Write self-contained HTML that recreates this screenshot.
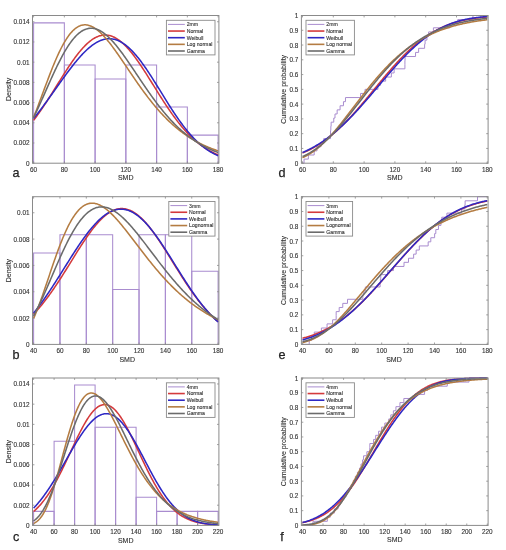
<!DOCTYPE html><html><head><meta charset="utf-8"><style>html,body{margin:0;padding:0;background:#fff;}svg{display:block;will-change:transform;}</style></head><body>
<svg width="506" height="550" viewBox="0 0 506 550" font-family='&quot;Liberation Sans&quot;, sans-serif' fill="#333333">
<style>text{stroke:#333333;stroke-width:0.12;}</style>
<rect width="506" height="550" fill="#fff"/>
<g>
<path d="M33.60,163.20 V22.89 H64.35 V163.20" stroke="#a98ccf" stroke-width="1.05" fill="none"/>
<path d="M64.35,163.20 V64.98 H95.10 V163.20" stroke="#a98ccf" stroke-width="1.05" fill="none"/>
<path d="M95.10,163.20 V79.01 H125.85 V163.20" stroke="#a98ccf" stroke-width="1.05" fill="none"/>
<path d="M125.85,163.20 V64.98 H156.60 V163.20" stroke="#a98ccf" stroke-width="1.05" fill="none"/>
<path d="M156.60,163.20 V107.07 H187.35 V163.20" stroke="#a98ccf" stroke-width="1.05" fill="none"/>
<path d="M187.35,163.20 V135.14 H218.10 V163.20" stroke="#a98ccf" stroke-width="1.05" fill="none"/>
<path d="M33.60,120.36 L34.37,119.35 L35.14,118.32 L35.91,117.28 L36.68,116.23 L37.44,115.16 L38.21,114.09 L38.98,113.00 L39.75,111.90 L40.52,110.79 L41.29,109.68 L42.06,108.55 L42.83,107.41 L43.59,106.26 L44.36,105.10 L45.13,103.93 L45.90,102.76 L46.67,101.58 L47.44,100.39 L48.21,99.19 L48.98,97.99 L49.74,96.78 L50.51,95.57 L51.28,94.35 L52.05,93.13 L52.82,91.90 L53.59,90.67 L54.36,89.44 L55.12,88.21 L55.89,86.97 L56.66,85.74 L57.43,84.50 L58.20,83.27 L58.97,82.03 L59.74,80.80 L60.51,79.57 L61.28,78.34 L62.04,77.12 L62.81,75.90 L63.58,74.69 L64.35,73.48 L65.12,72.28 L65.89,71.08 L66.66,69.90 L67.42,68.72 L68.19,67.55 L68.96,66.39 L69.73,65.25 L70.50,64.11 L71.27,62.99 L72.04,61.88 L72.81,60.78 L73.58,59.69 L74.34,58.63 L75.11,57.57 L75.88,56.54 L76.65,55.52 L77.42,54.52 L78.19,53.54 L78.96,52.57 L79.72,51.63 L80.49,50.70 L81.26,49.80 L82.03,48.92 L82.80,48.06 L83.57,47.23 L84.34,46.41 L85.11,45.62 L85.88,44.86 L86.64,44.12 L87.41,43.41 L88.18,42.72 L88.95,42.06 L89.72,41.43 L90.49,40.82 L91.26,40.25 L92.03,39.70 L92.79,39.18 L93.56,38.69 L94.33,38.23 L95.10,37.80 L95.87,37.40 L96.64,37.03 L97.41,36.69 L98.18,36.38 L98.94,36.10 L99.71,35.86 L100.48,35.64 L101.25,35.46 L102.02,35.31 L102.79,35.20 L103.56,35.11 L104.33,35.06 L105.09,35.04 L105.86,35.05 L106.63,35.10 L107.40,35.18 L108.17,35.28 L108.94,35.43 L109.71,35.60 L110.47,35.81 L111.24,36.04 L112.01,36.31 L112.78,36.61 L113.55,36.95 L114.32,37.31 L115.09,37.70 L115.86,38.13 L116.62,38.58 L117.39,39.06 L118.16,39.58 L118.93,40.12 L119.70,40.69 L120.47,41.29 L121.24,41.91 L122.01,42.57 L122.78,43.25 L123.54,43.96 L124.31,44.69 L125.08,45.45 L125.85,46.23 L126.62,47.04 L127.39,47.87 L128.16,48.72 L128.93,49.60 L129.69,50.49 L130.46,51.41 L131.23,52.35 L132.00,53.31 L132.77,54.29 L133.54,55.29 L134.31,56.30 L135.08,57.34 L135.84,58.38 L136.61,59.45 L137.38,60.53 L138.15,61.62 L138.92,62.73 L139.69,63.85 L140.46,64.99 L141.22,66.13 L141.99,67.29 L142.76,68.45 L143.53,69.63 L144.30,70.81 L145.07,72.00 L145.84,73.20 L146.61,74.41 L147.38,75.62 L148.14,76.84 L148.91,78.06 L149.68,79.29 L150.45,80.52 L151.22,81.75 L151.99,82.98 L152.76,84.22 L153.53,85.45 L154.29,86.69 L155.06,87.93 L155.83,89.16 L156.60,90.39 L157.37,91.62 L158.14,92.85 L158.91,94.07 L159.68,95.29 L160.44,96.50 L161.21,97.71 L161.98,98.92 L162.75,100.12 L163.52,101.31 L164.29,102.49 L165.06,103.67 L165.82,104.83 L166.59,105.99 L167.36,107.14 L168.13,108.29 L168.90,109.42 L169.67,110.54 L170.44,111.65 L171.21,112.75 L171.97,113.84 L172.74,114.92 L173.51,115.99 L174.28,117.04 L175.05,118.08 L175.82,119.11 L176.59,120.13 L177.36,121.14 L178.12,122.13 L178.89,123.11 L179.66,124.07 L180.43,125.02 L181.20,125.96 L181.97,126.89 L182.74,127.80 L183.51,128.69 L184.28,129.57 L185.04,130.44 L185.81,131.29 L186.58,132.13 L187.35,132.96 L188.12,133.77 L188.89,134.56 L189.66,135.34 L190.42,136.11 L191.19,136.86 L191.96,137.60 L192.73,138.32 L193.50,139.03 L194.27,139.73 L195.04,140.41 L195.81,141.07 L196.57,141.73 L197.34,142.36 L198.11,142.99 L198.88,143.60 L199.65,144.20 L200.42,144.78 L201.19,145.35 L201.96,145.91 L202.72,146.45 L203.49,146.98 L204.26,147.50 L205.03,148.00 L205.80,148.50 L206.57,148.98 L207.34,149.45 L208.11,149.90 L208.88,150.35 L209.64,150.78 L210.41,151.20 L211.18,151.61 L211.95,152.01 L212.72,152.40 L213.49,152.77 L214.26,153.14 L215.02,153.49 L215.79,153.84 L216.56,154.17 L217.33,154.50 L218.10,154.82" stroke="#d43a3c" stroke-width="1.55" fill="none" stroke-linejoin="round"/>
<path d="M33.60,118.50 L34.37,117.55 L35.14,116.60 L35.91,115.64 L36.68,114.67 L37.44,113.69 L38.21,112.70 L38.98,111.71 L39.75,110.71 L40.52,109.70 L41.29,108.68 L42.06,107.66 L42.83,106.64 L43.59,105.61 L44.36,104.57 L45.13,103.52 L45.90,102.48 L46.67,101.42 L47.44,100.37 L48.21,99.30 L48.98,98.24 L49.74,97.17 L50.51,96.10 L51.28,95.02 L52.05,93.95 L52.82,92.87 L53.59,91.79 L54.36,90.71 L55.12,89.63 L55.89,88.54 L56.66,87.46 L57.43,86.38 L58.20,85.30 L58.97,84.22 L59.74,83.14 L60.51,82.06 L61.28,80.99 L62.04,79.91 L62.81,78.85 L63.58,77.78 L64.35,76.72 L65.12,75.67 L65.89,74.62 L66.66,73.57 L67.42,72.53 L68.19,71.50 L68.96,70.48 L69.73,69.46 L70.50,68.45 L71.27,67.45 L72.04,66.46 L72.81,65.48 L73.58,64.51 L74.34,63.54 L75.11,62.59 L75.88,61.66 L76.65,60.73 L77.42,59.81 L78.19,58.91 L78.96,58.03 L79.72,57.15 L80.49,56.29 L81.26,55.45 L82.03,54.62 L82.80,53.81 L83.57,53.01 L84.34,52.23 L85.11,51.47 L85.88,50.73 L86.64,50.00 L87.41,49.29 L88.18,48.61 L88.95,47.94 L89.72,47.29 L90.49,46.66 L91.26,46.06 L92.03,45.47 L92.79,44.91 L93.56,44.37 L94.33,43.85 L95.10,43.36 L95.87,42.89 L96.64,42.44 L97.41,42.02 L98.18,41.62 L98.94,41.24 L99.71,40.89 L100.48,40.57 L101.25,40.27 L102.02,40.00 L102.79,39.76 L103.56,39.54 L104.33,39.34 L105.09,39.18 L105.86,39.04 L106.63,38.93 L107.40,38.85 L108.17,38.79 L108.94,38.76 L109.71,38.76 L110.47,38.79 L111.24,38.85 L112.01,38.93 L112.78,39.04 L113.55,39.18 L114.32,39.35 L115.09,39.55 L115.86,39.78 L116.62,40.03 L117.39,40.31 L118.16,40.62 L118.93,40.96 L119.70,41.33 L120.47,41.72 L121.24,42.14 L122.01,42.59 L122.78,43.07 L123.54,43.57 L124.31,44.10 L125.08,44.66 L125.85,45.24 L126.62,45.85 L127.39,46.48 L128.16,47.14 L128.93,47.82 L129.69,48.53 L130.46,49.27 L131.23,50.02 L132.00,50.80 L132.77,51.61 L133.54,52.43 L134.31,53.28 L135.08,54.15 L135.84,55.04 L136.61,55.96 L137.38,56.89 L138.15,57.84 L138.92,58.81 L139.69,59.80 L140.46,60.81 L141.22,61.83 L141.99,62.87 L142.76,63.93 L143.53,65.00 L144.30,66.09 L145.07,67.19 L145.84,68.31 L146.61,69.43 L147.38,70.58 L148.14,71.73 L148.91,72.89 L149.68,74.07 L150.45,75.25 L151.22,76.44 L151.99,77.64 L152.76,78.85 L153.53,80.07 L154.29,81.29 L155.06,82.52 L155.83,83.75 L156.60,84.99 L157.37,86.23 L158.14,87.47 L158.91,88.71 L159.68,89.96 L160.44,91.21 L161.21,92.46 L161.98,93.70 L162.75,94.95 L163.52,96.20 L164.29,97.44 L165.06,98.68 L165.82,99.91 L166.59,101.14 L167.36,102.37 L168.13,103.59 L168.90,104.81 L169.67,106.02 L170.44,107.22 L171.21,108.41 L171.97,109.60 L172.74,110.78 L173.51,111.95 L174.28,113.10 L175.05,114.25 L175.82,115.39 L176.59,116.52 L177.36,117.64 L178.12,118.74 L178.89,119.83 L179.66,120.91 L180.43,121.98 L181.20,123.04 L181.97,124.08 L182.74,125.10 L183.51,126.12 L184.28,127.12 L185.04,128.10 L185.81,129.07 L186.58,130.02 L187.35,130.96 L188.12,131.89 L188.89,132.80 L189.66,133.69 L190.42,134.56 L191.19,135.43 L191.96,136.27 L192.73,137.10 L193.50,137.91 L194.27,138.71 L195.04,139.49 L195.81,140.25 L196.57,141.00 L197.34,141.73 L198.11,142.45 L198.88,143.15 L199.65,143.83 L200.42,144.50 L201.19,145.15 L201.96,145.79 L202.72,146.41 L203.49,147.01 L204.26,147.60 L205.03,148.17 L205.80,148.73 L206.57,149.27 L207.34,149.80 L208.11,150.31 L208.88,150.81 L209.64,151.30 L210.41,151.77 L211.18,152.22 L211.95,152.66 L212.72,153.09 L213.49,153.51 L214.26,153.91 L215.02,154.30 L215.79,154.67 L216.56,155.04 L217.33,155.39 L218.10,155.73" stroke="#2e28c4" stroke-width="1.55" fill="none" stroke-linejoin="round"/>
<path d="M33.60,117.27 L34.37,115.35 L35.14,113.40 L35.91,111.43 L36.68,109.44 L37.44,107.44 L38.21,105.41 L38.98,103.37 L39.75,101.32 L40.52,99.26 L41.29,97.19 L42.06,95.12 L42.83,93.04 L43.59,90.96 L44.36,88.89 L45.13,86.81 L45.90,84.75 L46.67,82.69 L47.44,80.65 L48.21,78.62 L48.98,76.60 L49.74,74.60 L50.51,72.62 L51.28,70.66 L52.05,68.73 L52.82,66.82 L53.59,64.94 L54.36,63.08 L55.12,61.26 L55.89,59.47 L56.66,57.72 L57.43,56.00 L58.20,54.32 L58.97,52.67 L59.74,51.07 L60.51,49.51 L61.28,47.99 L62.04,46.51 L62.81,45.08 L63.58,43.69 L64.35,42.35 L65.12,41.05 L65.89,39.80 L66.66,38.61 L67.42,37.46 L68.19,36.36 L68.96,35.31 L69.73,34.31 L70.50,33.36 L71.27,32.46 L72.04,31.61 L72.81,30.81 L73.58,30.06 L74.34,29.37 L75.11,28.72 L75.88,28.13 L76.65,27.58 L77.42,27.09 L78.19,26.65 L78.96,26.25 L79.72,25.91 L80.49,25.61 L81.26,25.36 L82.03,25.16 L82.80,25.01 L83.57,24.90 L84.34,24.84 L85.11,24.83 L85.88,24.85 L86.64,24.93 L87.41,25.04 L88.18,25.20 L88.95,25.40 L89.72,25.64 L90.49,25.92 L91.26,26.23 L92.03,26.59 L92.79,26.98 L93.56,27.41 L94.33,27.88 L95.10,28.37 L95.87,28.91 L96.64,29.47 L97.41,30.07 L98.18,30.69 L98.94,31.35 L99.71,32.03 L100.48,32.74 L101.25,33.48 L102.02,34.25 L102.79,35.04 L103.56,35.85 L104.33,36.69 L105.09,37.54 L105.86,38.42 L106.63,39.32 L107.40,40.24 L108.17,41.18 L108.94,42.13 L109.71,43.10 L110.47,44.09 L111.24,45.09 L112.01,46.11 L112.78,47.14 L113.55,48.18 L114.32,49.23 L115.09,50.29 L115.86,51.37 L116.62,52.45 L117.39,53.54 L118.16,54.64 L118.93,55.75 L119.70,56.86 L120.47,57.98 L121.24,59.10 L122.01,60.23 L122.78,61.36 L123.54,62.49 L124.31,63.63 L125.08,64.77 L125.85,65.91 L126.62,67.05 L127.39,68.19 L128.16,69.34 L128.93,70.48 L129.69,71.62 L130.46,72.75 L131.23,73.89 L132.00,75.02 L132.77,76.15 L133.54,77.28 L134.31,78.40 L135.08,79.52 L135.84,80.64 L136.61,81.75 L137.38,82.85 L138.15,83.95 L138.92,85.04 L139.69,86.13 L140.46,87.21 L141.22,88.29 L141.99,89.35 L142.76,90.41 L143.53,91.46 L144.30,92.51 L145.07,93.55 L145.84,94.57 L146.61,95.59 L147.38,96.61 L148.14,97.61 L148.91,98.61 L149.68,99.59 L150.45,100.57 L151.22,101.54 L151.99,102.49 L152.76,103.44 L153.53,104.38 L154.29,105.31 L155.06,106.23 L155.83,107.14 L156.60,108.04 L157.37,108.94 L158.14,109.82 L158.91,110.69 L159.68,111.55 L160.44,112.40 L161.21,113.24 L161.98,114.07 L162.75,114.89 L163.52,115.70 L164.29,116.51 L165.06,117.30 L165.82,118.08 L166.59,118.85 L167.36,119.61 L168.13,120.36 L168.90,121.10 L169.67,121.83 L170.44,122.55 L171.21,123.26 L171.97,123.96 L172.74,124.66 L173.51,125.34 L174.28,126.01 L175.05,126.67 L175.82,127.33 L176.59,127.97 L177.36,128.60 L178.12,129.23 L178.89,129.84 L179.66,130.45 L180.43,131.05 L181.20,131.63 L181.97,132.21 L182.74,132.78 L183.51,133.34 L184.28,133.90 L185.04,134.44 L185.81,134.97 L186.58,135.50 L187.35,136.02 L188.12,136.53 L188.89,137.03 L189.66,137.52 L190.42,138.01 L191.19,138.49 L191.96,138.96 L192.73,139.42 L193.50,139.87 L194.27,140.32 L195.04,140.76 L195.81,141.19 L196.57,141.61 L197.34,142.03 L198.11,142.44 L198.88,142.84 L199.65,143.24 L200.42,143.62 L201.19,144.01 L201.96,144.38 L202.72,144.75 L203.49,145.11 L204.26,145.47 L205.03,145.82 L205.80,146.16 L206.57,146.50 L207.34,146.83 L208.11,147.15 L208.88,147.47 L209.64,147.78 L210.41,148.09 L211.18,148.39 L211.95,148.69 L212.72,148.98 L213.49,149.27 L214.26,149.55 L215.02,149.82 L215.79,150.09 L216.56,150.36 L217.33,150.62 L218.10,150.87" stroke="#b47c42" stroke-width="1.55" fill="none" stroke-linejoin="round"/>
<path d="M33.60,117.59 L34.37,116.00 L35.14,114.40 L35.91,112.77 L36.68,111.13 L37.44,109.48 L38.21,107.81 L38.98,106.13 L39.75,104.43 L40.52,102.73 L41.29,101.01 L42.06,99.29 L42.83,97.56 L43.59,95.83 L44.36,94.09 L45.13,92.35 L45.90,90.61 L46.67,88.88 L47.44,87.14 L48.21,85.41 L48.98,83.68 L49.74,81.96 L50.51,80.24 L51.28,78.54 L52.05,76.84 L52.82,75.16 L53.59,73.49 L54.36,71.84 L55.12,70.20 L55.89,68.58 L56.66,66.98 L57.43,65.39 L58.20,63.83 L58.97,62.29 L59.74,60.78 L60.51,59.29 L61.28,57.82 L62.04,56.38 L62.81,54.97 L63.58,53.59 L64.35,52.24 L65.12,50.91 L65.89,49.62 L66.66,48.37 L67.42,47.14 L68.19,45.95 L68.96,44.80 L69.73,43.68 L70.50,42.59 L71.27,41.54 L72.04,40.53 L72.81,39.56 L73.58,38.63 L74.34,37.73 L75.11,36.88 L75.88,36.06 L76.65,35.28 L77.42,34.55 L78.19,33.85 L78.96,33.20 L79.72,32.58 L80.49,32.01 L81.26,31.47 L82.03,30.98 L82.80,30.53 L83.57,30.12 L84.34,29.75 L85.11,29.42 L85.88,29.13 L86.64,28.89 L87.41,28.68 L88.18,28.51 L88.95,28.38 L89.72,28.30 L90.49,28.25 L91.26,28.24 L92.03,28.26 L92.79,28.33 L93.56,28.43 L94.33,28.57 L95.10,28.75 L95.87,28.96 L96.64,29.21 L97.41,29.50 L98.18,29.81 L98.94,30.16 L99.71,30.55 L100.48,30.97 L101.25,31.41 L102.02,31.90 L102.79,32.41 L103.56,32.95 L104.33,33.52 L105.09,34.12 L105.86,34.74 L106.63,35.40 L107.40,36.07 L108.17,36.78 L108.94,37.51 L109.71,38.27 L110.47,39.04 L111.24,39.84 L112.01,40.67 L112.78,41.51 L113.55,42.37 L114.32,43.26 L115.09,44.16 L115.86,45.08 L116.62,46.02 L117.39,46.98 L118.16,47.95 L118.93,48.93 L119.70,49.93 L120.47,50.95 L121.24,51.98 L122.01,53.02 L122.78,54.07 L123.54,55.13 L124.31,56.20 L125.08,57.29 L125.85,58.38 L126.62,59.48 L127.39,60.58 L128.16,61.70 L128.93,62.82 L129.69,63.94 L130.46,65.07 L131.23,66.21 L132.00,67.35 L132.77,68.49 L133.54,69.64 L134.31,70.78 L135.08,71.93 L135.84,73.08 L136.61,74.23 L137.38,75.38 L138.15,76.53 L138.92,77.68 L139.69,78.83 L140.46,79.97 L141.22,81.12 L141.99,82.26 L142.76,83.39 L143.53,84.53 L144.30,85.66 L145.07,86.78 L145.84,87.90 L146.61,89.02 L147.38,90.13 L148.14,91.23 L148.91,92.33 L149.68,93.42 L150.45,94.51 L151.22,95.59 L151.99,96.66 L152.76,97.72 L153.53,98.78 L154.29,99.82 L155.06,100.86 L155.83,101.89 L156.60,102.91 L157.37,103.93 L158.14,104.93 L158.91,105.93 L159.68,106.91 L160.44,107.89 L161.21,108.85 L161.98,109.81 L162.75,110.76 L163.52,111.69 L164.29,112.62 L165.06,113.53 L165.82,114.44 L166.59,115.34 L167.36,116.22 L168.13,117.09 L168.90,117.96 L169.67,118.81 L170.44,119.65 L171.21,120.48 L171.97,121.30 L172.74,122.11 L173.51,122.91 L174.28,123.70 L175.05,124.48 L175.82,125.24 L176.59,126.00 L177.36,126.74 L178.12,127.48 L178.89,128.20 L179.66,128.91 L180.43,129.61 L181.20,130.30 L181.97,130.98 L182.74,131.65 L183.51,132.31 L184.28,132.96 L185.04,133.60 L185.81,134.23 L186.58,134.84 L187.35,135.45 L188.12,136.05 L188.89,136.63 L189.66,137.21 L190.42,137.78 L191.19,138.34 L191.96,138.88 L192.73,139.42 L193.50,139.95 L194.27,140.47 L195.04,140.98 L195.81,141.48 L196.57,141.97 L197.34,142.45 L198.11,142.93 L198.88,143.39 L199.65,143.85 L200.42,144.29 L201.19,144.73 L201.96,145.16 L202.72,145.58 L203.49,145.99 L204.26,146.40 L205.03,146.80 L205.80,147.19 L206.57,147.57 L207.34,147.94 L208.11,148.31 L208.88,148.67 L209.64,149.02 L210.41,149.36 L211.18,149.70 L211.95,150.03 L212.72,150.35 L213.49,150.67 L214.26,150.98 L215.02,151.28 L215.79,151.57 L216.56,151.86 L217.33,152.15 L218.10,152.42" stroke="#6b6b6b" stroke-width="1.55" fill="none" stroke-linejoin="round"/>
<path d="M33.60,163.20v-1.90M33.60,15.50v1.90M64.35,163.20v-1.90M64.35,15.50v1.90M95.10,163.20v-1.90M95.10,15.50v1.90M125.85,163.20v-1.90M125.85,15.50v1.90M156.60,163.20v-1.90M156.60,15.50v1.90M187.35,163.20v-1.90M187.35,15.50v1.90M218.10,163.20v-1.90M218.10,15.50v1.90M32.50,163.20h1.90M218.90,163.20h-1.90M32.50,142.99h1.90M218.90,142.99h-1.90M32.50,122.79h1.90M218.90,122.79h-1.90M32.50,102.58h1.90M218.90,102.58h-1.90M32.50,82.38h1.90M218.90,82.38h-1.90M32.50,62.17h1.90M218.90,62.17h-1.90M32.50,41.97h1.90M218.90,41.97h-1.90M32.50,21.76h1.90M218.90,21.76h-1.90" stroke="#8a8a8a" stroke-width="0.8" fill="none"/>
<rect x="32.50" y="15.50" width="186.40" height="147.70" stroke="#8a8a8a" stroke-width="1" fill="none"/>
<text x="33.60" y="171.80" text-anchor="middle" font-size="6.4">60</text>
<text x="64.35" y="171.80" text-anchor="middle" font-size="6.4">80</text>
<text x="95.10" y="171.80" text-anchor="middle" font-size="6.4">100</text>
<text x="125.85" y="171.80" text-anchor="middle" font-size="6.4">120</text>
<text x="156.60" y="171.80" text-anchor="middle" font-size="6.4">140</text>
<text x="187.35" y="171.80" text-anchor="middle" font-size="6.4">160</text>
<text x="218.10" y="171.80" text-anchor="middle" font-size="6.4">180</text>
<text x="29.50" y="165.70" text-anchor="end" font-size="6.4">0</text>
<text x="29.50" y="145.49" text-anchor="end" font-size="6.4">0.002</text>
<text x="29.50" y="125.29" text-anchor="end" font-size="6.4">0.004</text>
<text x="29.50" y="105.08" text-anchor="end" font-size="6.4">0.006</text>
<text x="29.50" y="84.88" text-anchor="end" font-size="6.4">0.008</text>
<text x="29.50" y="64.67" text-anchor="end" font-size="6.4">0.01</text>
<text x="29.50" y="44.47" text-anchor="end" font-size="6.4">0.012</text>
<text x="29.50" y="24.26" text-anchor="end" font-size="6.4">0.014</text>
<text x="125.70" y="180.10" text-anchor="middle" font-size="7.0">SMD</text>
<text transform="translate(10.50,89.35) rotate(-90)" text-anchor="middle" font-size="7.0">Density</text>
<text x="16.10" y="176.60" text-anchor="middle" font-size="12.6" style="fill:#222;stroke:#222;stroke-width:0.25">a</text>
<rect x="166.40" y="20.30" width="48.60" height="34.60" fill="#fff" stroke="#8a8a8a" stroke-width="0.9"/>
<path d="M168.00,24.40h16.80" stroke="#a98ccf" stroke-width="1.0"/>
<text x="186.70" y="26.30" font-size="5.15">2mm</text>
<path d="M168.00,31.05h16.80" stroke="#d43a3c" stroke-width="1.6"/>
<text x="186.70" y="32.95" font-size="5.15">Normal</text>
<path d="M168.00,37.70h16.80" stroke="#2e28c4" stroke-width="1.6"/>
<text x="186.70" y="39.60" font-size="5.15">Weibull</text>
<path d="M168.00,44.35h16.80" stroke="#b47c42" stroke-width="1.6"/>
<text x="186.70" y="46.25" font-size="5.15">Log normal</text>
<path d="M168.00,51.00h16.80" stroke="#6b6b6b" stroke-width="1.6"/>
<text x="186.70" y="52.90" font-size="5.15">Gamma</text>
</g>
<g>
<path d="M33.60,344.40 V252.98 H59.96 V344.40" stroke="#a98ccf" stroke-width="1.05" fill="none"/>
<path d="M59.96,344.40 V234.70 H86.31 V344.40" stroke="#a98ccf" stroke-width="1.05" fill="none"/>
<path d="M86.31,344.40 V234.70 H112.67 V344.40" stroke="#a98ccf" stroke-width="1.05" fill="none"/>
<path d="M112.67,344.40 V289.55 H139.03 V344.40" stroke="#a98ccf" stroke-width="1.05" fill="none"/>
<path d="M139.03,344.40 V234.70 H165.39 V344.40" stroke="#a98ccf" stroke-width="1.05" fill="none"/>
<path d="M165.39,344.40 V234.70 H191.74 V344.40" stroke="#a98ccf" stroke-width="1.05" fill="none"/>
<path d="M191.74,344.40 V271.27 H218.10 V344.40" stroke="#a98ccf" stroke-width="1.05" fill="none"/>
<path d="M33.60,314.02 L34.37,313.22 L35.14,312.41 L35.91,311.58 L36.68,310.74 L37.44,309.88 L38.21,309.01 L38.98,308.13 L39.75,307.24 L40.52,306.33 L41.29,305.40 L42.06,304.47 L42.83,303.52 L43.59,302.56 L44.36,301.58 L45.13,300.59 L45.90,299.59 L46.67,298.58 L47.44,297.55 L48.21,296.52 L48.98,295.47 L49.74,294.41 L50.51,293.33 L51.28,292.25 L52.05,291.16 L52.82,290.05 L53.59,288.94 L54.36,287.81 L55.12,286.68 L55.89,285.54 L56.66,284.38 L57.43,283.22 L58.20,282.05 L58.97,280.87 L59.74,279.69 L60.51,278.50 L61.28,277.30 L62.04,276.09 L62.81,274.88 L63.58,273.66 L64.35,272.44 L65.12,271.22 L65.89,269.99 L66.66,268.75 L67.43,267.52 L68.19,266.28 L68.96,265.04 L69.73,263.80 L70.50,262.55 L71.27,261.31 L72.04,260.07 L72.81,258.83 L73.58,257.59 L74.34,256.35 L75.11,255.11 L75.88,253.88 L76.65,252.65 L77.42,251.43 L78.19,250.21 L78.96,249.00 L79.72,247.79 L80.49,246.59 L81.26,245.40 L82.03,244.22 L82.80,243.04 L83.57,241.88 L84.34,240.72 L85.11,239.58 L85.88,238.45 L86.64,237.33 L87.41,236.22 L88.18,235.12 L88.95,234.04 L89.72,232.98 L90.49,231.93 L91.26,230.89 L92.03,229.88 L92.79,228.88 L93.56,227.89 L94.33,226.93 L95.10,225.98 L95.87,225.06 L96.64,224.15 L97.41,223.27 L98.18,222.40 L98.94,221.56 L99.71,220.74 L100.48,219.95 L101.25,219.17 L102.02,218.42 L102.79,217.70 L103.56,217.00 L104.33,216.32 L105.09,215.67 L105.86,215.05 L106.63,214.45 L107.40,213.89 L108.17,213.34 L108.94,212.83 L109.71,212.34 L110.48,211.88 L111.24,211.45 L112.01,211.05 L112.78,210.68 L113.55,210.34 L114.32,210.03 L115.09,209.75 L115.86,209.49 L116.62,209.27 L117.39,209.08 L118.16,208.92 L118.93,208.79 L119.70,208.69 L120.47,208.62 L121.24,208.59 L122.01,208.58 L122.78,208.60 L123.54,208.66 L124.31,208.74 L125.08,208.86 L125.85,209.01 L126.62,209.19 L127.39,209.40 L128.16,209.63 L128.93,209.90 L129.69,210.20 L130.46,210.53 L131.23,210.89 L132.00,211.28 L132.77,211.70 L133.54,212.14 L134.31,212.62 L135.08,213.12 L135.84,213.65 L136.61,214.21 L137.38,214.79 L138.15,215.40 L138.92,216.04 L139.69,216.71 L140.46,217.39 L141.22,218.11 L141.99,218.85 L142.76,219.61 L143.53,220.40 L144.30,221.21 L145.07,222.04 L145.84,222.89 L146.61,223.77 L147.38,224.67 L148.14,225.58 L148.91,226.52 L149.68,227.48 L150.45,228.45 L151.22,229.45 L151.99,230.46 L152.76,231.48 L153.53,232.53 L154.29,233.58 L155.06,234.66 L155.83,235.75 L156.60,236.85 L157.37,237.96 L158.14,239.09 L158.91,240.23 L159.68,241.38 L160.44,242.54 L161.21,243.71 L161.98,244.89 L162.75,246.08 L163.52,247.28 L164.29,248.48 L165.06,249.69 L165.83,250.91 L166.59,252.13 L167.36,253.35 L168.13,254.58 L168.90,255.82 L169.67,257.06 L170.44,258.29 L171.21,259.54 L171.97,260.78 L172.74,262.02 L173.51,263.26 L174.28,264.51 L175.05,265.75 L175.82,266.99 L176.59,268.22 L177.36,269.46 L178.12,270.69 L178.89,271.92 L179.66,273.14 L180.43,274.36 L181.20,275.57 L181.97,276.78 L182.74,277.98 L183.51,279.18 L184.28,280.37 L185.04,281.55 L185.81,282.72 L186.58,283.88 L187.35,285.04 L188.12,286.19 L188.89,287.33 L189.66,288.46 L190.42,289.58 L191.19,290.68 L191.96,291.78 L192.73,292.87 L193.50,293.95 L194.27,295.01 L195.04,296.07 L195.81,297.11 L196.58,298.14 L197.34,299.16 L198.11,300.16 L198.88,301.16 L199.65,302.14 L200.42,303.11 L201.19,304.06 L201.96,305.00 L202.72,305.93 L203.49,306.85 L204.26,307.75 L205.03,308.64 L205.80,309.51 L206.57,310.37 L207.34,311.22 L208.11,312.05 L208.88,312.87 L209.64,313.68 L210.41,314.47 L211.18,315.25 L211.95,316.01 L212.72,316.76 L213.49,317.50 L214.26,318.22 L215.03,318.93 L215.79,319.63 L216.56,320.31 L217.33,320.98 L218.10,321.64" stroke="#d43a3c" stroke-width="1.55" fill="none" stroke-linejoin="round"/>
<path d="M33.60,313.09 L34.37,312.14 L35.14,311.18 L35.91,310.20 L36.68,309.22 L37.44,308.22 L38.21,307.21 L38.98,306.19 L39.75,305.16 L40.52,304.11 L41.29,303.06 L42.06,301.99 L42.83,300.92 L43.59,299.83 L44.36,298.74 L45.13,297.63 L45.90,296.52 L46.67,295.40 L47.44,294.27 L48.21,293.13 L48.98,291.98 L49.74,290.83 L50.51,289.67 L51.28,288.50 L52.05,287.32 L52.82,286.14 L53.59,284.95 L54.36,283.76 L55.12,282.56 L55.89,281.36 L56.66,280.15 L57.43,278.94 L58.20,277.73 L58.97,276.51 L59.74,275.29 L60.51,274.07 L61.28,272.84 L62.04,271.61 L62.81,270.39 L63.58,269.16 L64.35,267.93 L65.12,266.70 L65.89,265.47 L66.66,264.25 L67.43,263.02 L68.19,261.80 L68.96,260.58 L69.73,259.36 L70.50,258.14 L71.27,256.93 L72.04,255.73 L72.81,254.53 L73.58,253.33 L74.34,252.14 L75.11,250.96 L75.88,249.78 L76.65,248.61 L77.42,247.45 L78.19,246.30 L78.96,245.15 L79.72,244.02 L80.49,242.89 L81.26,241.78 L82.03,240.68 L82.80,239.58 L83.57,238.50 L84.34,237.43 L85.11,236.38 L85.88,235.34 L86.64,234.31 L87.41,233.29 L88.18,232.30 L88.95,231.31 L89.72,230.34 L90.49,229.39 L91.26,228.46 L92.03,227.54 L92.79,226.64 L93.56,225.76 L94.33,224.89 L95.10,224.05 L95.87,223.22 L96.64,222.42 L97.41,221.63 L98.18,220.87 L98.94,220.12 L99.71,219.40 L100.48,218.70 L101.25,218.02 L102.02,217.37 L102.79,216.73 L103.56,216.12 L104.33,215.54 L105.09,214.98 L105.86,214.44 L106.63,213.93 L107.40,213.44 L108.17,212.97 L108.94,212.54 L109.71,212.12 L110.48,211.74 L111.24,211.38 L112.01,211.05 L112.78,210.74 L113.55,210.46 L114.32,210.20 L115.09,209.98 L115.86,209.78 L116.62,209.61 L117.39,209.46 L118.16,209.35 L118.93,209.26 L119.70,209.20 L120.47,209.16 L121.24,209.16 L122.01,209.18 L122.78,209.23 L123.54,209.31 L124.31,209.42 L125.08,209.55 L125.85,209.71 L126.62,209.90 L127.39,210.12 L128.16,210.36 L128.93,210.64 L129.69,210.94 L130.46,211.26 L131.23,211.62 L132.00,212.00 L132.77,212.41 L133.54,212.84 L134.31,213.30 L135.08,213.78 L135.84,214.30 L136.61,214.83 L137.38,215.40 L138.15,215.98 L138.92,216.59 L139.69,217.23 L140.46,217.89 L141.22,218.57 L141.99,219.28 L142.76,220.01 L143.53,220.76 L144.30,221.54 L145.07,222.33 L145.84,223.15 L146.61,223.98 L147.38,224.84 L148.14,225.72 L148.91,226.62 L149.68,227.53 L150.45,228.47 L151.22,229.42 L151.99,230.39 L152.76,231.37 L153.53,232.38 L154.29,233.40 L155.06,234.43 L155.83,235.48 L156.60,236.54 L157.37,237.62 L158.14,238.71 L158.91,239.81 L159.68,240.92 L160.44,242.05 L161.21,243.18 L161.98,244.33 L162.75,245.49 L163.52,246.65 L164.29,247.83 L165.06,249.01 L165.83,250.20 L166.59,251.39 L167.36,252.60 L168.13,253.80 L168.90,255.02 L169.67,256.23 L170.44,257.46 L171.21,258.68 L171.97,259.91 L172.74,261.14 L173.51,262.37 L174.28,263.60 L175.05,264.83 L175.82,266.07 L176.59,267.30 L177.36,268.53 L178.12,269.76 L178.89,270.99 L179.66,272.21 L180.43,273.43 L181.20,274.65 L181.97,275.87 L182.74,277.08 L183.51,278.28 L184.28,279.48 L185.04,280.67 L185.81,281.86 L186.58,283.04 L187.35,284.21 L188.12,285.38 L188.89,286.54 L189.66,287.69 L190.42,288.83 L191.19,289.96 L191.96,291.08 L192.73,292.19 L193.50,293.30 L194.27,294.39 L195.04,295.47 L195.81,296.54 L196.58,297.60 L197.34,298.64 L198.11,299.68 L198.88,300.70 L199.65,301.72 L200.42,302.71 L201.19,303.70 L201.96,304.67 L202.72,305.63 L203.49,306.58 L204.26,307.52 L205.03,308.44 L205.80,309.34 L206.57,310.24 L207.34,311.12 L208.11,311.98 L208.88,312.84 L209.64,313.67 L210.41,314.50 L211.18,315.31 L211.95,316.10 L212.72,316.89 L213.49,317.65 L214.26,318.41 L215.03,319.15 L215.79,319.87 L216.56,320.58 L217.33,321.28 L218.10,321.96" stroke="#2e28c4" stroke-width="1.55" fill="none" stroke-linejoin="round"/>
<path d="M33.60,318.41 L34.37,316.66 L35.14,314.87 L35.91,313.02 L36.68,311.12 L37.44,309.17 L38.21,307.19 L38.98,305.16 L39.75,303.09 L40.52,300.99 L41.29,298.86 L42.06,296.69 L42.83,294.50 L43.59,292.29 L44.36,290.06 L45.13,287.81 L45.90,285.55 L46.67,283.27 L47.44,280.99 L48.21,278.71 L48.98,276.42 L49.74,274.13 L50.51,271.85 L51.28,269.58 L52.05,267.31 L52.82,265.06 L53.59,262.83 L54.36,260.61 L55.12,258.41 L55.89,256.24 L56.66,254.09 L57.43,251.97 L58.20,249.88 L58.97,247.82 L59.74,245.80 L60.51,243.81 L61.28,241.85 L62.04,239.94 L62.81,238.07 L63.58,236.24 L64.35,234.45 L65.12,232.71 L65.89,231.01 L66.66,229.36 L67.43,227.75 L68.19,226.20 L68.96,224.69 L69.73,223.24 L70.50,221.83 L71.27,220.48 L72.04,219.18 L72.81,217.93 L73.58,216.73 L74.34,215.59 L75.11,214.49 L75.88,213.45 L76.65,212.46 L77.42,211.53 L78.19,210.64 L78.96,209.81 L79.72,209.03 L80.49,208.30 L81.26,207.62 L82.03,207.00 L82.80,206.42 L83.57,205.89 L84.34,205.41 L85.11,204.98 L85.88,204.60 L86.64,204.26 L87.41,203.98 L88.18,203.73 L88.95,203.54 L89.72,203.38 L90.49,203.27 L91.26,203.21 L92.03,203.18 L92.79,203.20 L93.56,203.25 L94.33,203.35 L95.10,203.48 L95.87,203.65 L96.64,203.86 L97.41,204.11 L98.18,204.39 L98.94,204.70 L99.71,205.04 L100.48,205.42 L101.25,205.83 L102.02,206.27 L102.79,206.74 L103.56,207.24 L104.33,207.76 L105.09,208.31 L105.86,208.89 L106.63,209.49 L107.40,210.12 L108.17,210.77 L108.94,211.44 L109.71,212.14 L110.48,212.85 L111.24,213.58 L112.01,214.34 L112.78,215.11 L113.55,215.90 L114.32,216.70 L115.09,217.52 L115.86,218.36 L116.62,219.21 L117.39,220.08 L118.16,220.95 L118.93,221.84 L119.70,222.74 L120.47,223.66 L121.24,224.58 L122.01,225.51 L122.78,226.45 L123.54,227.40 L124.31,228.36 L125.08,229.32 L125.85,230.29 L126.62,231.27 L127.39,232.25 L128.16,233.24 L128.93,234.23 L129.69,235.22 L130.46,236.22 L131.23,237.22 L132.00,238.23 L132.77,239.23 L133.54,240.24 L134.31,241.25 L135.08,242.26 L135.84,243.27 L136.61,244.28 L137.38,245.29 L138.15,246.30 L138.92,247.31 L139.69,248.31 L140.46,249.32 L141.22,250.32 L141.99,251.32 L142.76,252.32 L143.53,253.32 L144.30,254.31 L145.07,255.30 L145.84,256.28 L146.61,257.26 L147.38,258.24 L148.14,259.21 L148.91,260.18 L149.68,261.14 L150.45,262.10 L151.22,263.05 L151.99,264.00 L152.76,264.94 L153.53,265.88 L154.29,266.81 L155.06,267.73 L155.83,268.65 L156.60,269.56 L157.37,270.47 L158.14,271.37 L158.91,272.26 L159.68,273.15 L160.44,274.03 L161.21,274.90 L161.98,275.77 L162.75,276.63 L163.52,277.48 L164.29,278.32 L165.06,279.16 L165.83,279.99 L166.59,280.81 L167.36,281.63 L168.13,282.44 L168.90,283.24 L169.67,284.03 L170.44,284.82 L171.21,285.60 L171.97,286.37 L172.74,287.13 L173.51,287.89 L174.28,288.64 L175.05,289.38 L175.82,290.11 L176.59,290.84 L177.36,291.55 L178.12,292.27 L178.89,292.97 L179.66,293.66 L180.43,294.35 L181.20,295.03 L181.97,295.71 L182.74,296.37 L183.51,297.03 L184.28,297.68 L185.04,298.32 L185.81,298.96 L186.58,299.59 L187.35,300.21 L188.12,300.83 L188.89,301.43 L189.66,302.03 L190.42,302.63 L191.19,303.21 L191.96,303.79 L192.73,304.36 L193.50,304.93 L194.27,305.49 L195.04,306.04 L195.81,306.58 L196.58,307.12 L197.34,307.65 L198.11,308.17 L198.88,308.69 L199.65,309.20 L200.42,309.71 L201.19,310.21 L201.96,310.70 L202.72,311.18 L203.49,311.66 L204.26,312.14 L205.03,312.60 L205.80,313.07 L206.57,313.52 L207.34,313.97 L208.11,314.41 L208.88,314.85 L209.64,315.28 L210.41,315.71 L211.18,316.13 L211.95,316.54 L212.72,316.95 L213.49,317.35 L214.26,317.75 L215.03,318.14 L215.79,318.53 L216.56,318.91 L217.33,319.29 L218.10,319.66" stroke="#b47c42" stroke-width="1.55" fill="none" stroke-linejoin="round"/>
<path d="M33.60,315.76 L34.37,314.35 L35.14,312.92 L35.91,311.45 L36.68,309.95 L37.44,308.43 L38.21,306.88 L38.98,305.30 L39.75,303.70 L40.52,302.08 L41.29,300.44 L42.06,298.78 L42.83,297.09 L43.59,295.39 L44.36,293.68 L45.13,291.95 L45.90,290.21 L46.67,288.45 L47.44,286.69 L48.21,284.91 L48.98,283.13 L49.74,281.34 L50.51,279.55 L51.28,277.76 L52.05,275.97 L52.82,274.17 L53.59,272.38 L54.36,270.59 L55.12,268.80 L55.89,267.02 L56.66,265.25 L57.43,263.49 L58.20,261.73 L58.97,259.99 L59.74,258.26 L60.51,256.55 L61.28,254.85 L62.04,253.16 L62.81,251.50 L63.58,249.85 L64.35,248.22 L65.12,246.61 L65.89,245.03 L66.66,243.47 L67.43,241.93 L68.19,240.42 L68.96,238.94 L69.73,237.48 L70.50,236.05 L71.27,234.64 L72.04,233.27 L72.81,231.93 L73.58,230.62 L74.34,229.34 L75.11,228.09 L75.88,226.87 L76.65,225.69 L77.42,224.54 L78.19,223.43 L78.96,222.35 L79.72,221.31 L80.49,220.30 L81.26,219.33 L82.03,218.39 L82.80,217.49 L83.57,216.63 L84.34,215.80 L85.11,215.01 L85.88,214.26 L86.64,213.54 L87.41,212.86 L88.18,212.22 L88.95,211.62 L89.72,211.05 L90.49,210.52 L91.26,210.03 L92.03,209.57 L92.79,209.15 L93.56,208.77 L94.33,208.43 L95.10,208.12 L95.87,207.84 L96.64,207.60 L97.41,207.40 L98.18,207.23 L98.94,207.10 L99.71,207.00 L100.48,206.93 L101.25,206.90 L102.02,206.90 L102.79,206.94 L103.56,207.00 L104.33,207.10 L105.09,207.23 L105.86,207.39 L106.63,207.58 L107.40,207.81 L108.17,208.06 L108.94,208.34 L109.71,208.64 L110.48,208.98 L111.24,209.34 L112.01,209.73 L112.78,210.15 L113.55,210.59 L114.32,211.06 L115.09,211.55 L115.86,212.06 L116.62,212.60 L117.39,213.16 L118.16,213.75 L118.93,214.35 L119.70,214.98 L120.47,215.62 L121.24,216.29 L122.01,216.97 L122.78,217.68 L123.54,218.40 L124.31,219.14 L125.08,219.89 L125.85,220.66 L126.62,221.45 L127.39,222.25 L128.16,223.07 L128.93,223.90 L129.69,224.75 L130.46,225.60 L131.23,226.47 L132.00,227.36 L132.77,228.25 L133.54,229.15 L134.31,230.07 L135.08,230.99 L135.84,231.92 L136.61,232.86 L137.38,233.81 L138.15,234.77 L138.92,235.73 L139.69,236.70 L140.46,237.68 L141.22,238.66 L141.99,239.65 L142.76,240.64 L143.53,241.63 L144.30,242.63 L145.07,243.64 L145.84,244.64 L146.61,245.65 L147.38,246.66 L148.14,247.68 L148.91,248.69 L149.68,249.71 L150.45,250.72 L151.22,251.74 L151.99,252.76 L152.76,253.78 L153.53,254.79 L154.29,255.81 L155.06,256.82 L155.83,257.83 L156.60,258.84 L157.37,259.85 L158.14,260.85 L158.91,261.86 L159.68,262.86 L160.44,263.85 L161.21,264.85 L161.98,265.83 L162.75,266.82 L163.52,267.80 L164.29,268.78 L165.06,269.75 L165.83,270.71 L166.59,271.68 L167.36,272.63 L168.13,273.58 L168.90,274.53 L169.67,275.47 L170.44,276.40 L171.21,277.33 L171.97,278.25 L172.74,279.16 L173.51,280.07 L174.28,280.97 L175.05,281.87 L175.82,282.76 L176.59,283.64 L177.36,284.51 L178.12,285.38 L178.89,286.24 L179.66,287.09 L180.43,287.93 L181.20,288.77 L181.97,289.60 L182.74,290.42 L183.51,291.23 L184.28,292.04 L185.04,292.84 L185.81,293.63 L186.58,294.41 L187.35,295.18 L188.12,295.95 L188.89,296.71 L189.66,297.46 L190.42,298.20 L191.19,298.93 L191.96,299.66 L192.73,300.38 L193.50,301.09 L194.27,301.79 L195.04,302.48 L195.81,303.16 L196.58,303.84 L197.34,304.51 L198.11,305.17 L198.88,305.82 L199.65,306.47 L200.42,307.10 L201.19,307.73 L201.96,308.35 L202.72,308.97 L203.49,309.57 L204.26,310.17 L205.03,310.76 L205.80,311.34 L206.57,311.91 L207.34,312.48 L208.11,313.03 L208.88,313.58 L209.64,314.13 L210.41,314.66 L211.18,315.19 L211.95,315.71 L212.72,316.22 L213.49,316.73 L214.26,317.22 L215.03,317.71 L215.79,318.20 L216.56,318.67 L217.33,319.14 L218.10,319.61" stroke="#6b6b6b" stroke-width="1.55" fill="none" stroke-linejoin="round"/>
<path d="M33.60,344.40v-1.90M33.60,196.70v1.90M59.96,344.40v-1.90M59.96,196.70v1.90M86.31,344.40v-1.90M86.31,196.70v1.90M112.67,344.40v-1.90M112.67,196.70v1.90M139.03,344.40v-1.90M139.03,196.70v1.90M165.39,344.40v-1.90M165.39,196.70v1.90M191.74,344.40v-1.90M191.74,196.70v1.90M218.10,344.40v-1.90M218.10,196.70v1.90M32.50,344.40h1.90M218.90,344.40h-1.90M32.50,318.07h1.90M218.90,318.07h-1.90M32.50,291.74h1.90M218.90,291.74h-1.90M32.50,265.42h1.90M218.90,265.42h-1.90M32.50,239.09h1.90M218.90,239.09h-1.90M32.50,212.76h1.90M218.90,212.76h-1.90" stroke="#8a8a8a" stroke-width="0.8" fill="none"/>
<rect x="32.50" y="196.70" width="186.40" height="147.70" stroke="#8a8a8a" stroke-width="1" fill="none"/>
<text x="33.60" y="353.00" text-anchor="middle" font-size="6.4">40</text>
<text x="59.96" y="353.00" text-anchor="middle" font-size="6.4">60</text>
<text x="86.31" y="353.00" text-anchor="middle" font-size="6.4">80</text>
<text x="112.67" y="353.00" text-anchor="middle" font-size="6.4">100</text>
<text x="139.03" y="353.00" text-anchor="middle" font-size="6.4">120</text>
<text x="165.39" y="353.00" text-anchor="middle" font-size="6.4">140</text>
<text x="191.74" y="353.00" text-anchor="middle" font-size="6.4">160</text>
<text x="218.10" y="353.00" text-anchor="middle" font-size="6.4">180</text>
<text x="29.50" y="346.90" text-anchor="end" font-size="6.4">0</text>
<text x="29.50" y="320.57" text-anchor="end" font-size="6.4">0.002</text>
<text x="29.50" y="294.24" text-anchor="end" font-size="6.4">0.004</text>
<text x="29.50" y="267.92" text-anchor="end" font-size="6.4">0.006</text>
<text x="29.50" y="241.59" text-anchor="end" font-size="6.4">0.008</text>
<text x="29.50" y="215.26" text-anchor="end" font-size="6.4">0.01</text>
<text x="127.20" y="362.30" text-anchor="middle" font-size="7.0">SMD</text>
<text transform="translate(10.50,270.55) rotate(-90)" text-anchor="middle" font-size="7.0">Density</text>
<text x="16.10" y="358.80" text-anchor="middle" font-size="12.6" style="fill:#222;stroke:#222;stroke-width:0.25">b</text>
<rect x="168.80" y="201.50" width="46.20" height="34.60" fill="#fff" stroke="#8a8a8a" stroke-width="0.9"/>
<path d="M170.40,205.60h16.80" stroke="#a98ccf" stroke-width="1.0"/>
<text x="189.10" y="207.50" font-size="5.15">3mm</text>
<path d="M170.40,212.25h16.80" stroke="#d43a3c" stroke-width="1.6"/>
<text x="189.10" y="214.15" font-size="5.15">Normal</text>
<path d="M170.40,218.90h16.80" stroke="#2e28c4" stroke-width="1.6"/>
<text x="189.10" y="220.80" font-size="5.15">Weibull</text>
<path d="M170.40,225.55h16.80" stroke="#b47c42" stroke-width="1.6"/>
<text x="189.10" y="227.45" font-size="5.15">Lognormal</text>
<path d="M170.40,232.20h16.80" stroke="#6b6b6b" stroke-width="1.6"/>
<text x="189.10" y="234.10" font-size="5.15">Gamma</text>
</g>
<g>
<path d="M33.60,525.40 V511.37 H54.10 V525.40" stroke="#a98ccf" stroke-width="1.05" fill="none"/>
<path d="M54.10,525.40 V441.21 H74.60 V525.40" stroke="#a98ccf" stroke-width="1.05" fill="none"/>
<path d="M74.60,525.40 V385.08 H95.10 V525.40" stroke="#a98ccf" stroke-width="1.05" fill="none"/>
<path d="M95.10,525.40 V427.18 H115.60 V525.40" stroke="#a98ccf" stroke-width="1.05" fill="none"/>
<path d="M115.60,525.40 V427.18 H136.10 V525.40" stroke="#a98ccf" stroke-width="1.05" fill="none"/>
<path d="M136.10,525.40 V497.34 H156.60 V525.40" stroke="#a98ccf" stroke-width="1.05" fill="none"/>
<path d="M156.60,525.40 V511.37 H177.10 V525.40" stroke="#a98ccf" stroke-width="1.05" fill="none"/>
<path d="M177.10,525.40 V511.37 H197.60 V525.40" stroke="#a98ccf" stroke-width="1.05" fill="none"/>
<path d="M197.60,525.40 V511.37 H218.10 V525.40" stroke="#a98ccf" stroke-width="1.05" fill="none"/>
<path d="M33.60,511.47 L34.37,510.80 L35.14,510.12 L35.91,509.41 L36.68,508.67 L37.44,507.91 L38.21,507.12 L38.98,506.31 L39.75,505.47 L40.52,504.61 L41.29,503.72 L42.06,502.80 L42.83,501.86 L43.59,500.89 L44.36,499.89 L45.13,498.86 L45.90,497.81 L46.67,496.73 L47.44,495.62 L48.21,494.49 L48.98,493.33 L49.74,492.14 L50.51,490.93 L51.28,489.69 L52.05,488.42 L52.82,487.13 L53.59,485.81 L54.36,484.47 L55.12,483.10 L55.89,481.71 L56.66,480.30 L57.43,478.86 L58.20,477.41 L58.97,475.93 L59.74,474.43 L60.51,472.92 L61.28,471.39 L62.04,469.84 L62.81,468.27 L63.58,466.69 L64.35,465.10 L65.12,463.50 L65.89,461.88 L66.66,460.26 L67.42,458.62 L68.19,456.99 L68.96,455.34 L69.73,453.70 L70.50,452.05 L71.27,450.40 L72.04,448.75 L72.81,447.11 L73.58,445.47 L74.34,443.84 L75.11,442.22 L75.88,440.61 L76.65,439.01 L77.42,437.43 L78.19,435.86 L78.96,434.31 L79.72,432.78 L80.49,431.27 L81.26,429.79 L82.03,428.33 L82.80,426.90 L83.57,425.50 L84.34,424.13 L85.11,422.79 L85.88,421.49 L86.64,420.23 L87.41,419.00 L88.18,417.81 L88.95,416.67 L89.72,415.57 L90.49,414.51 L91.26,413.50 L92.03,412.54 L92.79,411.62 L93.56,410.76 L94.33,409.95 L95.10,409.19 L95.87,408.49 L96.64,407.84 L97.41,407.25 L98.18,406.71 L98.94,406.24 L99.71,405.82 L100.48,405.46 L101.25,405.16 L102.02,404.92 L102.79,404.74 L103.56,404.62 L104.33,404.57 L105.09,404.57 L105.86,404.63 L106.63,404.76 L107.40,404.95 L108.17,405.19 L108.94,405.50 L109.71,405.87 L110.47,406.30 L111.24,406.78 L112.01,407.32 L112.78,407.92 L113.55,408.58 L114.32,409.29 L115.09,410.05 L115.86,410.87 L116.62,411.74 L117.39,412.66 L118.16,413.63 L118.93,414.64 L119.70,415.71 L120.47,416.81 L121.24,417.96 L122.01,419.15 L122.78,420.39 L123.54,421.66 L124.31,422.96 L125.08,424.30 L125.85,425.68 L126.62,427.08 L127.39,428.52 L128.16,429.98 L128.93,431.47 L129.69,432.98 L130.46,434.51 L131.23,436.06 L132.00,437.63 L132.77,439.22 L133.54,440.82 L134.31,442.43 L135.08,444.05 L135.84,445.68 L136.61,447.32 L137.38,448.97 L138.15,450.61 L138.92,452.26 L139.69,453.91 L140.46,455.55 L141.22,457.20 L141.99,458.83 L142.76,460.46 L143.53,462.09 L144.30,463.70 L145.07,465.30 L145.84,466.90 L146.61,468.47 L147.38,470.04 L148.14,471.58 L148.91,473.11 L149.68,474.63 L150.45,476.12 L151.22,477.59 L151.99,479.05 L152.76,480.48 L153.53,481.89 L154.29,483.28 L155.06,484.64 L155.83,485.98 L156.60,487.29 L157.37,488.58 L158.14,489.85 L158.91,491.08 L159.68,492.29 L160.44,493.48 L161.21,494.64 L161.98,495.77 L162.75,496.87 L163.52,497.95 L164.29,499.00 L165.06,500.02 L165.82,501.01 L166.59,501.98 L167.36,502.92 L168.13,503.84 L168.90,504.72 L169.67,505.58 L170.44,506.42 L171.21,507.23 L171.97,508.01 L172.74,508.77 L173.51,509.50 L174.28,510.21 L175.05,510.89 L175.82,511.55 L176.59,512.19 L177.36,512.80 L178.12,513.39 L178.89,513.96 L179.66,514.51 L180.43,515.04 L181.20,515.54 L181.97,516.03 L182.74,516.50 L183.51,516.94 L184.28,517.37 L185.04,517.78 L185.81,518.18 L186.58,518.56 L187.35,518.92 L188.12,519.26 L188.89,519.59 L189.66,519.90 L190.42,520.20 L191.19,520.49 L191.96,520.76 L192.73,521.02 L193.50,521.27 L194.27,521.51 L195.04,521.73 L195.81,521.94 L196.57,522.14 L197.34,522.34 L198.11,522.52 L198.88,522.69 L199.65,522.85 L200.42,523.01 L201.19,523.16 L201.96,523.29 L202.72,523.43 L203.49,523.55 L204.26,523.67 L205.03,523.78 L205.80,523.88 L206.57,523.98 L207.34,524.07 L208.11,524.16 L208.88,524.24 L209.64,524.32 L210.41,524.39 L211.18,524.46 L211.95,524.52 L212.72,524.58 L213.49,524.64 L214.26,524.69 L215.02,524.74 L215.79,524.79 L216.56,524.83 L217.33,524.87 L218.10,524.91" stroke="#d43a3c" stroke-width="1.55" fill="none" stroke-linejoin="round"/>
<path d="M33.60,508.11 L34.37,507.31 L35.14,506.49 L35.91,505.65 L36.68,504.79 L37.44,503.91 L38.21,503.01 L38.98,502.09 L39.75,501.15 L40.52,500.19 L41.29,499.22 L42.06,498.23 L42.83,497.21 L43.59,496.18 L44.36,495.14 L45.13,494.07 L45.90,492.99 L46.67,491.89 L47.44,490.77 L48.21,489.64 L48.98,488.49 L49.74,487.33 L50.51,486.15 L51.28,484.96 L52.05,483.75 L52.82,482.53 L53.59,481.30 L54.36,480.06 L55.12,478.80 L55.89,477.53 L56.66,476.26 L57.43,474.97 L58.20,473.67 L58.97,472.37 L59.74,471.05 L60.51,469.73 L61.28,468.41 L62.04,467.08 L62.81,465.74 L63.58,464.40 L64.35,463.06 L65.12,461.72 L65.89,460.37 L66.66,459.02 L67.42,457.68 L68.19,456.34 L68.96,454.99 L69.73,453.66 L70.50,452.32 L71.27,451.00 L72.04,449.68 L72.81,448.36 L73.58,447.06 L74.34,445.76 L75.11,444.48 L75.88,443.20 L76.65,441.94 L77.42,440.70 L78.19,439.47 L78.96,438.25 L79.72,437.05 L80.49,435.87 L81.26,434.71 L82.03,433.57 L82.80,432.45 L83.57,431.36 L84.34,430.28 L85.11,429.24 L85.88,428.22 L86.64,427.22 L87.41,426.25 L88.18,425.31 L88.95,424.41 L89.72,423.53 L90.49,422.68 L91.26,421.87 L92.03,421.09 L92.79,420.34 L93.56,419.63 L94.33,418.96 L95.10,418.32 L95.87,417.73 L96.64,417.17 L97.41,416.64 L98.18,416.16 L98.94,415.72 L99.71,415.33 L100.48,414.97 L101.25,414.65 L102.02,414.38 L102.79,414.15 L103.56,413.97 L104.33,413.83 L105.09,413.73 L105.86,413.68 L106.63,413.67 L107.40,413.71 L108.17,413.79 L108.94,413.92 L109.71,414.10 L110.47,414.31 L111.24,414.58 L112.01,414.89 L112.78,415.24 L113.55,415.64 L114.32,416.08 L115.09,416.56 L115.86,417.09 L116.62,417.66 L117.39,418.28 L118.16,418.93 L118.93,419.63 L119.70,420.37 L120.47,421.15 L121.24,421.96 L122.01,422.82 L122.78,423.71 L123.54,424.64 L124.31,425.61 L125.08,426.60 L125.85,427.64 L126.62,428.70 L127.39,429.80 L128.16,430.93 L128.93,432.08 L129.69,433.27 L130.46,434.48 L131.23,435.72 L132.00,436.98 L132.77,438.26 L133.54,439.57 L134.31,440.89 L135.08,442.24 L135.84,443.60 L136.61,444.98 L137.38,446.37 L138.15,447.78 L138.92,449.20 L139.69,450.63 L140.46,452.07 L141.22,453.52 L141.99,454.97 L142.76,456.43 L143.53,457.89 L144.30,459.36 L145.07,460.82 L145.84,462.29 L146.61,463.75 L147.38,465.21 L148.14,466.67 L148.91,468.12 L149.68,469.57 L150.45,471.01 L151.22,472.43 L151.99,473.85 L152.76,475.26 L153.53,476.66 L154.29,478.04 L155.06,479.41 L155.83,480.76 L156.60,482.10 L157.37,483.42 L158.14,484.72 L158.91,486.00 L159.68,487.27 L160.44,488.51 L161.21,489.74 L161.98,490.94 L162.75,492.13 L163.52,493.29 L164.29,494.43 L165.06,495.54 L165.82,496.63 L166.59,497.70 L167.36,498.75 L168.13,499.77 L168.90,500.76 L169.67,501.74 L170.44,502.68 L171.21,503.61 L171.97,504.51 L172.74,505.38 L173.51,506.23 L174.28,507.05 L175.05,507.85 L175.82,508.63 L176.59,509.38 L177.36,510.11 L178.12,510.81 L178.89,511.49 L179.66,512.15 L180.43,512.78 L181.20,513.40 L181.97,513.99 L182.74,514.55 L183.51,515.10 L184.28,515.63 L185.04,516.13 L185.81,516.62 L186.58,517.08 L187.35,517.53 L188.12,517.95 L188.89,518.36 L189.66,518.75 L190.42,519.13 L191.19,519.48 L191.96,519.82 L192.73,520.15 L193.50,520.46 L194.27,520.75 L195.04,521.03 L195.81,521.30 L196.57,521.55 L197.34,521.79 L198.11,522.02 L198.88,522.23 L199.65,522.44 L200.42,522.63 L201.19,522.81 L201.96,522.98 L202.72,523.15 L203.49,523.30 L204.26,523.44 L205.03,523.58 L205.80,523.71 L206.57,523.83 L207.34,523.94 L208.11,524.04 L208.88,524.14 L209.64,524.24 L210.41,524.32 L211.18,524.40 L211.95,524.48 L212.72,524.55 L213.49,524.61 L214.26,524.68 L215.02,524.73 L215.79,524.79 L216.56,524.84 L217.33,524.88 L218.10,524.92" stroke="#2e28c4" stroke-width="1.55" fill="none" stroke-linejoin="round"/>
<path d="M33.60,523.46 L34.37,523.09 L35.14,522.66 L35.91,522.18 L36.68,521.63 L37.44,521.01 L38.21,520.33 L38.98,519.56 L39.75,518.72 L40.52,517.80 L41.29,516.79 L42.06,515.70 L42.83,514.51 L43.59,513.23 L44.36,511.86 L45.13,510.39 L45.90,508.82 L46.67,507.16 L47.44,505.40 L48.21,503.55 L48.98,501.61 L49.74,499.57 L50.51,497.45 L51.28,495.24 L52.05,492.95 L52.82,490.58 L53.59,488.14 L54.36,485.63 L55.12,483.06 L55.89,480.43 L56.66,477.75 L57.43,475.02 L58.20,472.25 L58.97,469.45 L59.74,466.62 L60.51,463.77 L61.28,460.91 L62.04,458.04 L62.81,455.17 L63.58,452.31 L64.35,449.46 L65.12,446.63 L65.89,443.83 L66.66,441.05 L67.42,438.32 L68.19,435.63 L68.96,432.99 L69.73,430.41 L70.50,427.89 L71.27,425.43 L72.04,423.04 L72.81,420.72 L73.58,418.48 L74.34,416.33 L75.11,414.25 L75.88,412.27 L76.65,410.38 L77.42,408.57 L78.19,406.87 L78.96,405.26 L79.72,403.74 L80.49,402.33 L81.26,401.02 L82.03,399.80 L82.80,398.69 L83.57,397.68 L84.34,396.77 L85.11,395.96 L85.88,395.25 L86.64,394.64 L87.41,394.12 L88.18,393.71 L88.95,393.39 L89.72,393.16 L90.49,393.02 L91.26,392.98 L92.03,393.02 L92.79,393.15 L93.56,393.36 L94.33,393.65 L95.10,394.03 L95.87,394.48 L96.64,395.00 L97.41,395.59 L98.18,396.26 L98.94,396.99 L99.71,397.78 L100.48,398.64 L101.25,399.55 L102.02,400.52 L102.79,401.54 L103.56,402.61 L104.33,403.72 L105.09,404.89 L105.86,406.09 L106.63,407.33 L107.40,408.61 L108.17,409.93 L108.94,411.28 L109.71,412.65 L110.47,414.05 L111.24,415.48 L112.01,416.93 L112.78,418.40 L113.55,419.89 L114.32,421.39 L115.09,422.91 L115.86,424.44 L116.62,425.98 L117.39,427.53 L118.16,429.09 L118.93,430.65 L119.70,432.21 L120.47,433.77 L121.24,435.34 L122.01,436.90 L122.78,438.46 L123.54,440.02 L124.31,441.57 L125.08,443.12 L125.85,444.65 L126.62,446.18 L127.39,447.70 L128.16,449.21 L128.93,450.71 L129.69,452.20 L130.46,453.67 L131.23,455.13 L132.00,456.57 L132.77,458.00 L133.54,459.42 L134.31,460.82 L135.08,462.20 L135.84,463.56 L136.61,464.91 L137.38,466.24 L138.15,467.55 L138.92,468.84 L139.69,470.12 L140.46,471.37 L141.22,472.61 L141.99,473.82 L142.76,475.02 L143.53,476.20 L144.30,477.35 L145.07,478.49 L145.84,479.61 L146.61,480.71 L147.38,481.79 L148.14,482.85 L148.91,483.89 L149.68,484.90 L150.45,485.90 L151.22,486.89 L151.99,487.85 L152.76,488.79 L153.53,489.71 L154.29,490.62 L155.06,491.50 L155.83,492.37 L156.60,493.22 L157.37,494.05 L158.14,494.86 L158.91,495.66 L159.68,496.44 L160.44,497.20 L161.21,497.94 L161.98,498.67 L162.75,499.38 L163.52,500.07 L164.29,500.75 L165.06,501.41 L165.82,502.06 L166.59,502.69 L167.36,503.31 L168.13,503.91 L168.90,504.49 L169.67,505.07 L170.44,505.63 L171.21,506.17 L171.97,506.70 L172.74,507.22 L173.51,507.73 L174.28,508.22 L175.05,508.70 L175.82,509.17 L176.59,509.62 L177.36,510.07 L178.12,510.50 L178.89,510.92 L179.66,511.33 L180.43,511.73 L181.20,512.12 L181.97,512.50 L182.74,512.87 L183.51,513.23 L184.28,513.58 L185.04,513.92 L185.81,514.25 L186.58,514.57 L187.35,514.89 L188.12,515.19 L188.89,515.49 L189.66,515.78 L190.42,516.06 L191.19,516.33 L191.96,516.60 L192.73,516.85 L193.50,517.10 L194.27,517.35 L195.04,517.59 L195.81,517.82 L196.57,518.04 L197.34,518.26 L198.11,518.47 L198.88,518.67 L199.65,518.87 L200.42,519.07 L201.19,519.26 L201.96,519.44 L202.72,519.62 L203.49,519.79 L204.26,519.96 L205.03,520.12 L205.80,520.28 L206.57,520.43 L207.34,520.58 L208.11,520.73 L208.88,520.87 L209.64,521.00 L210.41,521.14 L211.18,521.27 L211.95,521.39 L212.72,521.51 L213.49,521.63 L214.26,521.74 L215.02,521.85 L215.79,521.96 L216.56,522.07 L217.33,522.17 L218.10,522.27" stroke="#b47c42" stroke-width="1.55" fill="none" stroke-linejoin="round"/>
<path d="M33.60,520.91 L34.37,520.35 L35.14,519.75 L35.91,519.09 L36.68,518.38 L37.44,517.61 L38.21,516.78 L38.98,515.90 L39.75,514.96 L40.52,513.95 L41.29,512.89 L42.06,511.75 L42.83,510.56 L43.59,509.30 L44.36,507.97 L45.13,506.58 L45.90,505.13 L46.67,503.61 L47.44,502.03 L48.21,500.38 L48.98,498.67 L49.74,496.90 L50.51,495.07 L51.28,493.19 L52.05,491.24 L52.82,489.25 L53.59,487.20 L54.36,485.11 L55.12,482.97 L55.89,480.79 L56.66,478.57 L57.43,476.32 L58.20,474.03 L58.97,471.71 L59.74,469.37 L60.51,467.01 L61.28,464.63 L62.04,462.23 L62.81,459.83 L63.58,457.42 L64.35,455.01 L65.12,452.61 L65.89,450.21 L66.66,447.82 L67.42,445.45 L68.19,443.09 L68.96,440.76 L69.73,438.46 L70.50,436.19 L71.27,433.95 L72.04,431.75 L72.81,429.59 L73.58,427.48 L74.34,425.42 L75.11,423.40 L75.88,421.45 L76.65,419.55 L77.42,417.71 L78.19,415.93 L78.96,414.22 L79.72,412.58 L80.49,411.01 L81.26,409.51 L82.03,408.08 L82.80,406.73 L83.57,405.45 L84.34,404.25 L85.11,403.13 L85.88,402.09 L86.64,401.13 L87.41,400.25 L88.18,399.45 L88.95,398.74 L89.72,398.10 L90.49,397.55 L91.26,397.08 L92.03,396.69 L92.79,396.38 L93.56,396.15 L94.33,395.99 L95.10,395.92 L95.87,395.92 L96.64,396.00 L97.41,396.15 L98.18,396.38 L98.94,396.68 L99.71,397.04 L100.48,397.48 L101.25,397.98 L102.02,398.55 L102.79,399.18 L103.56,399.88 L104.33,400.63 L105.09,401.44 L105.86,402.30 L106.63,403.22 L107.40,404.19 L108.17,405.21 L108.94,406.28 L109.71,407.39 L110.47,408.54 L111.24,409.74 L112.01,410.97 L112.78,412.24 L113.55,413.54 L114.32,414.88 L115.09,416.25 L115.86,417.64 L116.62,419.06 L117.39,420.50 L118.16,421.97 L118.93,423.46 L119.70,424.96 L120.47,426.48 L121.24,428.01 L122.01,429.56 L122.78,431.11 L123.54,432.68 L124.31,434.25 L125.08,435.83 L125.85,437.41 L126.62,439.00 L127.39,440.58 L128.16,442.17 L128.93,443.75 L129.69,445.33 L130.46,446.91 L131.23,448.48 L132.00,450.04 L132.77,451.60 L133.54,453.14 L134.31,454.68 L135.08,456.20 L135.84,457.71 L136.61,459.21 L137.38,460.70 L138.15,462.17 L138.92,463.63 L139.69,465.07 L140.46,466.49 L141.22,467.90 L141.99,469.28 L142.76,470.65 L143.53,472.01 L144.30,473.34 L145.07,474.65 L145.84,475.94 L146.61,477.22 L147.38,478.47 L148.14,479.70 L148.91,480.91 L149.68,482.10 L150.45,483.27 L151.22,484.42 L151.99,485.55 L152.76,486.65 L153.53,487.73 L154.29,488.80 L155.06,489.84 L155.83,490.86 L156.60,491.85 L157.37,492.83 L158.14,493.79 L158.91,494.72 L159.68,495.63 L160.44,496.53 L161.21,497.40 L161.98,498.25 L162.75,499.08 L163.52,499.89 L164.29,500.68 L165.06,501.46 L165.82,502.21 L166.59,502.94 L167.36,503.66 L168.13,504.36 L168.90,505.03 L169.67,505.69 L170.44,506.34 L171.21,506.96 L171.97,507.57 L172.74,508.16 L173.51,508.74 L174.28,509.30 L175.05,509.84 L175.82,510.37 L176.59,510.88 L177.36,511.38 L178.12,511.86 L178.89,512.33 L179.66,512.79 L180.43,513.23 L181.20,513.66 L181.97,514.07 L182.74,514.47 L183.51,514.86 L184.28,515.24 L185.04,515.61 L185.81,515.96 L186.58,516.30 L187.35,516.63 L188.12,516.96 L188.89,517.27 L189.66,517.57 L190.42,517.86 L191.19,518.14 L191.96,518.41 L192.73,518.67 L193.50,518.93 L194.27,519.17 L195.04,519.41 L195.81,519.64 L196.57,519.86 L197.34,520.07 L198.11,520.28 L198.88,520.47 L199.65,520.67 L200.42,520.85 L201.19,521.03 L201.96,521.20 L202.72,521.37 L203.49,521.53 L204.26,521.68 L205.03,521.83 L205.80,521.97 L206.57,522.11 L207.34,522.24 L208.11,522.37 L208.88,522.49 L209.64,522.61 L210.41,522.72 L211.18,522.83 L211.95,522.94 L212.72,523.04 L213.49,523.14 L214.26,523.23 L215.02,523.32 L215.79,523.41 L216.56,523.49 L217.33,523.57 L218.10,523.65" stroke="#6b6b6b" stroke-width="1.55" fill="none" stroke-linejoin="round"/>
<path d="M33.60,525.40v-1.90M33.60,378.00v1.90M54.10,525.40v-1.90M54.10,378.00v1.90M74.60,525.40v-1.90M74.60,378.00v1.90M95.10,525.40v-1.90M95.10,378.00v1.90M115.60,525.40v-1.90M115.60,378.00v1.90M136.10,525.40v-1.90M136.10,378.00v1.90M156.60,525.40v-1.90M156.60,378.00v1.90M177.10,525.40v-1.90M177.10,378.00v1.90M197.60,525.40v-1.90M197.60,378.00v1.90M218.10,525.40v-1.90M218.10,378.00v1.90M32.50,525.40h1.90M218.90,525.40h-1.90M32.50,505.19h1.90M218.90,505.19h-1.90M32.50,484.99h1.90M218.90,484.99h-1.90M32.50,464.78h1.90M218.90,464.78h-1.90M32.50,444.58h1.90M218.90,444.58h-1.90M32.50,424.37h1.90M218.90,424.37h-1.90M32.50,404.17h1.90M218.90,404.17h-1.90M32.50,383.96h1.90M218.90,383.96h-1.90" stroke="#8a8a8a" stroke-width="0.8" fill="none"/>
<rect x="32.50" y="378.00" width="186.40" height="147.40" stroke="#8a8a8a" stroke-width="1" fill="none"/>
<text x="33.60" y="534.00" text-anchor="middle" font-size="6.4">40</text>
<text x="54.10" y="534.00" text-anchor="middle" font-size="6.4">60</text>
<text x="74.60" y="534.00" text-anchor="middle" font-size="6.4">80</text>
<text x="95.10" y="534.00" text-anchor="middle" font-size="6.4">100</text>
<text x="115.60" y="534.00" text-anchor="middle" font-size="6.4">120</text>
<text x="136.10" y="534.00" text-anchor="middle" font-size="6.4">140</text>
<text x="156.60" y="534.00" text-anchor="middle" font-size="6.4">160</text>
<text x="177.10" y="534.00" text-anchor="middle" font-size="6.4">180</text>
<text x="197.60" y="534.00" text-anchor="middle" font-size="6.4">200</text>
<text x="218.10" y="534.00" text-anchor="middle" font-size="6.4">220</text>
<text x="29.50" y="527.90" text-anchor="end" font-size="6.4">0</text>
<text x="29.50" y="507.69" text-anchor="end" font-size="6.4">0.002</text>
<text x="29.50" y="487.49" text-anchor="end" font-size="6.4">0.004</text>
<text x="29.50" y="467.28" text-anchor="end" font-size="6.4">0.006</text>
<text x="29.50" y="447.08" text-anchor="end" font-size="6.4">0.008</text>
<text x="29.50" y="426.87" text-anchor="end" font-size="6.4">0.01</text>
<text x="29.50" y="406.67" text-anchor="end" font-size="6.4">0.012</text>
<text x="29.50" y="386.46" text-anchor="end" font-size="6.4">0.014</text>
<text x="125.70" y="542.70" text-anchor="middle" font-size="7.0">SMD</text>
<text transform="translate(10.50,451.70) rotate(-90)" text-anchor="middle" font-size="7.0">Density</text>
<text x="16.10" y="541.30" text-anchor="middle" font-size="12.6" style="fill:#222;stroke:#222;stroke-width:0.25">c</text>
<rect x="166.40" y="382.80" width="48.60" height="34.60" fill="#fff" stroke="#8a8a8a" stroke-width="0.9"/>
<path d="M168.00,386.90h16.80" stroke="#a98ccf" stroke-width="1.0"/>
<text x="186.70" y="388.80" font-size="5.15">4mm</text>
<path d="M168.00,393.55h16.80" stroke="#d43a3c" stroke-width="1.6"/>
<text x="186.70" y="395.45" font-size="5.15">Normal</text>
<path d="M168.00,400.20h16.80" stroke="#2e28c4" stroke-width="1.6"/>
<text x="186.70" y="402.10" font-size="5.15">Weibull</text>
<path d="M168.00,406.85h16.80" stroke="#b47c42" stroke-width="1.6"/>
<text x="186.70" y="408.75" font-size="5.15">Log normal</text>
<path d="M168.00,413.50h16.80" stroke="#6b6b6b" stroke-width="1.6"/>
<text x="186.70" y="415.40" font-size="5.15">Gamma</text>
</g>
<g>
<path d="M302.50,163.20 L304.04,163.20 L304.04,159.10 L308.35,159.10 L308.35,154.99 L314.20,154.99 L314.20,150.89 L316.98,150.89 L316.98,146.79 L320.98,146.79 L320.98,142.69 L323.75,142.69 L323.75,138.58 L330.53,138.58 L330.53,134.48 L330.53,134.48 L330.53,130.38 L330.84,130.38 L330.84,126.27 L331.14,126.27 L331.14,122.17 L333.76,122.17 L333.76,118.07 L334.99,118.07 L334.99,113.97 L337.15,113.97 L337.15,109.86 L340.08,109.86 L340.08,105.76 L343.46,105.76 L343.46,101.66 L345.47,101.66 L345.47,97.56 L360.56,97.56 L360.56,93.45 L365.02,93.45 L365.02,89.35 L377.96,89.35 L377.96,85.25 L380.58,85.25 L380.58,81.14 L385.66,81.14 L385.66,77.04 L391.36,77.04 L391.36,72.94 L394.13,72.94 L394.13,68.84 L404.91,68.84 L404.91,64.73 L404.91,64.73 L404.91,60.63 L405.06,60.63 L405.06,56.53 L415.54,56.53 L415.54,52.42 L418.62,52.42 L418.62,48.32 L424.62,48.32 L424.62,44.22 L425.08,44.22 L425.08,40.12 L426.93,40.12 L426.93,36.01 L428.63,36.01 L428.63,31.91 L433.40,31.91 L433.40,27.81 L450.03,27.81 L450.03,23.71 L457.73,23.71 L457.73,19.60 L472.98,19.60 L472.98,15.50 L487.30,15.50" stroke="#a98ccf" stroke-width="1.0" fill="none"/>
<path d="M302.50,152.95 L303.27,152.64 L304.04,152.31 L304.81,151.98 L305.58,151.64 L306.35,151.29 L307.12,150.94 L307.89,150.58 L308.66,150.20 L309.43,149.83 L310.20,149.44 L310.97,149.04 L311.74,148.64 L312.51,148.23 L313.28,147.81 L314.05,147.38 L314.82,146.94 L315.59,146.49 L316.36,146.04 L317.13,145.58 L317.90,145.10 L318.67,144.62 L319.44,144.13 L320.21,143.63 L320.98,143.13 L321.75,142.61 L322.52,142.08 L323.29,141.55 L324.06,141.01 L324.83,140.45 L325.60,139.89 L326.37,139.32 L327.14,138.74 L327.91,138.15 L328.68,137.55 L329.45,136.95 L330.22,136.33 L330.99,135.71 L331.76,135.07 L332.53,134.43 L333.30,133.78 L334.07,133.12 L334.84,132.45 L335.61,131.77 L336.38,131.08 L337.15,130.39 L337.92,129.69 L338.69,128.97 L339.46,128.25 L340.23,127.53 L341.00,126.79 L341.77,126.04 L342.54,125.29 L343.31,124.53 L344.08,123.76 L344.85,122.99 L345.62,122.20 L346.39,121.41 L347.16,120.61 L347.93,119.81 L348.70,119.00 L349.47,118.18 L350.24,117.35 L351.01,116.52 L351.78,115.68 L352.55,114.84 L353.32,113.99 L354.09,113.13 L354.86,112.27 L355.63,111.40 L356.40,110.53 L357.17,109.65 L357.94,108.77 L358.71,107.88 L359.48,106.99 L360.25,106.09 L361.02,105.19 L361.79,104.28 L362.56,103.37 L363.33,102.46 L364.10,101.55 L364.87,100.63 L365.64,99.71 L366.41,98.79 L367.18,97.86 L367.95,96.93 L368.72,96.00 L369.49,95.07 L370.26,94.14 L371.03,93.20 L371.80,92.27 L372.57,91.33 L373.34,90.39 L374.11,89.46 L374.88,88.52 L375.65,87.58 L376.42,86.65 L377.19,85.71 L377.96,84.78 L378.73,83.84 L379.50,82.91 L380.27,81.98 L381.04,81.05 L381.81,80.13 L382.58,79.20 L383.35,78.28 L384.12,77.36 L384.89,76.45 L385.66,75.53 L386.43,74.62 L387.20,73.72 L387.97,72.82 L388.74,71.92 L389.51,71.03 L390.28,70.14 L391.05,69.25 L391.82,68.37 L392.59,67.50 L393.36,66.63 L394.13,65.77 L394.90,64.91 L395.67,64.06 L396.44,63.21 L397.21,62.37 L397.98,61.54 L398.75,60.71 L399.52,59.89 L400.29,59.08 L401.06,58.27 L401.83,57.47 L402.60,56.68 L403.37,55.89 L404.14,55.11 L404.91,54.34 L405.68,53.58 L406.45,52.83 L407.22,52.08 L407.99,51.34 L408.76,50.61 L409.53,49.89 L410.30,49.18 L411.07,48.47 L411.84,47.77 L412.61,47.09 L413.38,46.41 L414.15,45.73 L414.92,45.07 L415.69,44.42 L416.46,43.77 L417.23,43.14 L418.00,42.51 L418.77,41.89 L419.54,41.28 L420.31,40.68 L421.08,40.09 L421.85,39.51 L422.62,38.94 L423.39,38.38 L424.16,37.82 L424.93,37.27 L425.70,36.74 L426.47,36.21 L427.24,35.69 L428.01,35.18 L428.78,34.68 L429.55,34.19 L430.32,33.71 L431.09,33.23 L431.86,32.77 L432.63,32.31 L433.40,31.86 L434.17,31.42 L434.94,30.99 L435.71,30.57 L436.48,30.15 L437.25,29.75 L438.02,29.35 L438.79,28.96 L439.56,28.58 L440.33,28.21 L441.10,27.84 L441.87,27.49 L442.64,27.14 L443.41,26.80 L444.18,26.46 L444.95,26.14 L445.72,25.82 L446.49,25.51 L447.26,25.20 L448.03,24.91 L448.80,24.62 L449.57,24.33 L450.34,24.06 L451.11,23.79 L451.88,23.53 L452.65,23.27 L453.42,23.02 L454.19,22.78 L454.96,22.54 L455.73,22.31 L456.50,22.09 L457.27,21.87 L458.04,21.66 L458.81,21.45 L459.58,21.25 L460.35,21.06 L461.12,20.87 L461.89,20.68 L462.66,20.50 L463.43,20.33 L464.20,20.16 L464.97,20.00 L465.74,19.84 L466.51,19.68 L467.28,19.53 L468.05,19.39 L468.82,19.25 L469.59,19.11 L470.36,18.98 L471.13,18.85 L471.90,18.72 L472.67,18.60 L473.44,18.49 L474.21,18.37 L474.98,18.26 L475.75,18.16 L476.52,18.06 L477.29,17.96 L478.06,17.86 L478.83,17.77 L479.60,17.68 L480.37,17.59 L481.14,17.51 L481.91,17.43 L482.68,17.35 L483.45,17.28 L484.22,17.21 L484.99,17.14 L485.76,17.07 L486.53,17.00 L487.30,16.94" stroke="#d43a3c" stroke-width="1.55" fill="none" stroke-linejoin="round"/>
<path d="M302.50,152.52 L303.27,152.19 L304.04,151.86 L304.81,151.51 L305.58,151.16 L306.35,150.80 L307.12,150.44 L307.89,150.07 L308.66,149.69 L309.43,149.30 L310.20,148.90 L310.97,148.50 L311.74,148.09 L312.51,147.67 L313.28,147.25 L314.05,146.82 L314.82,146.38 L315.59,145.93 L316.36,145.47 L317.13,145.01 L317.90,144.54 L318.67,144.06 L319.44,143.57 L320.21,143.08 L320.98,142.58 L321.75,142.07 L322.52,141.55 L323.29,141.02 L324.06,140.49 L324.83,139.95 L325.60,139.40 L326.37,138.84 L327.14,138.27 L327.91,137.70 L328.68,137.12 L329.45,136.53 L330.22,135.93 L330.99,135.33 L331.76,134.72 L332.53,134.10 L333.30,133.47 L334.07,132.83 L334.84,132.19 L335.61,131.54 L336.38,130.88 L337.15,130.21 L337.92,129.54 L338.69,128.85 L339.46,128.17 L340.23,127.47 L341.00,126.77 L341.77,126.06 L342.54,125.34 L343.31,124.61 L344.08,123.88 L344.85,123.14 L345.62,122.40 L346.39,121.64 L347.16,120.88 L347.93,120.12 L348.70,119.35 L349.47,118.57 L350.24,117.78 L351.01,116.99 L351.78,116.20 L352.55,115.39 L353.32,114.59 L354.09,113.77 L354.86,112.95 L355.63,112.13 L356.40,111.30 L357.17,110.46 L357.94,109.62 L358.71,108.78 L359.48,107.93 L360.25,107.07 L361.02,106.21 L361.79,105.35 L362.56,104.49 L363.33,103.61 L364.10,102.74 L364.87,101.86 L365.64,100.98 L366.41,100.10 L367.18,99.21 L367.95,98.32 L368.72,97.43 L369.49,96.53 L370.26,95.63 L371.03,94.73 L371.80,93.83 L372.57,92.93 L373.34,92.03 L374.11,91.12 L374.88,90.21 L375.65,89.30 L376.42,88.40 L377.19,87.49 L377.96,86.58 L378.73,85.67 L379.50,84.76 L380.27,83.85 L381.04,82.94 L381.81,82.03 L382.58,81.12 L383.35,80.22 L384.12,79.31 L384.89,78.41 L385.66,77.51 L386.43,76.61 L387.20,75.71 L387.97,74.82 L388.74,73.93 L389.51,73.04 L390.28,72.15 L391.05,71.27 L391.82,70.39 L392.59,69.51 L393.36,68.64 L394.13,67.77 L394.90,66.90 L395.67,66.04 L396.44,65.19 L397.21,64.34 L397.98,63.49 L398.75,62.65 L399.52,61.82 L400.29,60.99 L401.06,60.16 L401.83,59.34 L402.60,58.53 L403.37,57.72 L404.14,56.92 L404.91,56.13 L405.68,55.34 L406.45,54.56 L407.22,53.79 L407.99,53.02 L408.76,52.26 L409.53,51.51 L410.30,50.76 L411.07,50.03 L411.84,49.30 L412.61,48.58 L413.38,47.86 L414.15,47.16 L414.92,46.46 L415.69,45.77 L416.46,45.09 L417.23,44.41 L418.00,43.75 L418.77,43.09 L419.54,42.45 L420.31,41.81 L421.08,41.18 L421.85,40.56 L422.62,39.95 L423.39,39.34 L424.16,38.75 L424.93,38.16 L425.70,37.59 L426.47,37.02 L427.24,36.46 L428.01,35.91 L428.78,35.37 L429.55,34.84 L430.32,34.32 L431.09,33.81 L431.86,33.30 L432.63,32.81 L433.40,32.32 L434.17,31.85 L434.94,31.38 L435.71,30.92 L436.48,30.47 L437.25,30.03 L438.02,29.60 L438.79,29.18 L439.56,28.77 L440.33,28.36 L441.10,27.96 L441.87,27.58 L442.64,27.20 L443.41,26.83 L444.18,26.47 L444.95,26.11 L445.72,25.77 L446.49,25.43 L447.26,25.10 L448.03,24.78 L448.80,24.47 L449.57,24.16 L450.34,23.86 L451.11,23.57 L451.88,23.29 L452.65,23.02 L453.42,22.75 L454.19,22.49 L454.96,22.24 L455.73,21.99 L456.50,21.75 L457.27,21.52 L458.04,21.29 L458.81,21.07 L459.58,20.86 L460.35,20.66 L461.12,20.46 L461.89,20.26 L462.66,20.07 L463.43,19.89 L464.20,19.72 L464.97,19.55 L465.74,19.38 L466.51,19.22 L467.28,19.07 L468.05,18.92 L468.82,18.77 L469.59,18.63 L470.36,18.50 L471.13,18.37 L471.90,18.25 L472.67,18.13 L473.44,18.01 L474.21,17.90 L474.98,17.79 L475.75,17.69 L476.52,17.59 L477.29,17.49 L478.06,17.40 L478.83,17.31 L479.60,17.22 L480.37,17.14 L481.14,17.06 L481.91,16.99 L482.68,16.91 L483.45,16.85 L484.22,16.78 L484.99,16.72 L485.76,16.65 L486.53,16.60 L487.30,16.54" stroke="#2e28c4" stroke-width="1.55" fill="none" stroke-linejoin="round"/>
<path d="M302.50,157.70 L303.27,157.35 L304.04,157.00 L304.81,156.62 L305.58,156.24 L306.35,155.84 L307.12,155.42 L307.89,154.99 L308.66,154.55 L309.43,154.09 L310.20,153.61 L310.97,153.12 L311.74,152.62 L312.51,152.10 L313.28,151.56 L314.05,151.01 L314.82,150.45 L315.59,149.86 L316.36,149.27 L317.13,148.66 L317.90,148.03 L318.67,147.39 L319.44,146.74 L320.21,146.07 L320.98,145.38 L321.75,144.69 L322.52,143.98 L323.29,143.25 L324.06,142.51 L324.83,141.76 L325.60,141.00 L326.37,140.22 L327.14,139.43 L327.91,138.63 L328.68,137.81 L329.45,136.99 L330.22,136.15 L330.99,135.30 L331.76,134.44 L332.53,133.58 L333.30,132.70 L334.07,131.81 L334.84,130.91 L335.61,130.00 L336.38,129.09 L337.15,128.17 L337.92,127.24 L338.69,126.30 L339.46,125.35 L340.23,124.40 L341.00,123.44 L341.77,122.47 L342.54,121.50 L343.31,120.53 L344.08,119.55 L344.85,118.56 L345.62,117.57 L346.39,116.58 L347.16,115.58 L347.93,114.58 L348.70,113.58 L349.47,112.58 L350.24,111.57 L351.01,110.56 L351.78,109.55 L352.55,108.54 L353.32,107.53 L354.09,106.52 L354.86,105.51 L355.63,104.50 L356.40,103.49 L357.17,102.48 L357.94,101.47 L358.71,100.46 L359.48,99.46 L360.25,98.45 L361.02,97.45 L361.79,96.46 L362.56,95.46 L363.33,94.47 L364.10,93.49 L364.87,92.50 L365.64,91.52 L366.41,90.55 L367.18,89.58 L367.95,88.61 L368.72,87.65 L369.49,86.69 L370.26,85.74 L371.03,84.80 L371.80,83.86 L372.57,82.92 L373.34,81.99 L374.11,81.07 L374.88,80.16 L375.65,79.25 L376.42,78.35 L377.19,77.45 L377.96,76.56 L378.73,75.68 L379.50,74.81 L380.27,73.94 L381.04,73.08 L381.81,72.23 L382.58,71.38 L383.35,70.55 L384.12,69.72 L384.89,68.89 L385.66,68.08 L386.43,67.28 L387.20,66.48 L387.97,65.69 L388.74,64.91 L389.51,64.13 L390.28,63.37 L391.05,62.61 L391.82,61.86 L392.59,61.12 L393.36,60.39 L394.13,59.67 L394.90,58.95 L395.67,58.24 L396.44,57.55 L397.21,56.86 L397.98,56.17 L398.75,55.50 L399.52,54.83 L400.29,54.18 L401.06,53.53 L401.83,52.89 L402.60,52.26 L403.37,51.63 L404.14,51.02 L404.91,50.41 L405.68,49.81 L406.45,49.22 L407.22,48.63 L407.99,48.06 L408.76,47.49 L409.53,46.93 L410.30,46.38 L411.07,45.84 L411.84,45.30 L412.61,44.77 L413.38,44.25 L414.15,43.74 L414.92,43.23 L415.69,42.74 L416.46,42.25 L417.23,41.76 L418.00,41.29 L418.77,40.82 L419.54,40.36 L420.31,39.90 L421.08,39.46 L421.85,39.02 L422.62,38.58 L423.39,38.16 L424.16,37.74 L424.93,37.32 L425.70,36.92 L426.47,36.52 L427.24,36.12 L428.01,35.74 L428.78,35.35 L429.55,34.98 L430.32,34.61 L431.09,34.25 L431.86,33.89 L432.63,33.54 L433.40,33.20 L434.17,32.86 L434.94,32.53 L435.71,32.20 L436.48,31.88 L437.25,31.56 L438.02,31.25 L438.79,30.95 L439.56,30.65 L440.33,30.35 L441.10,30.06 L441.87,29.78 L442.64,29.50 L443.41,29.23 L444.18,28.96 L444.95,28.69 L445.72,28.43 L446.49,28.18 L447.26,27.93 L448.03,27.68 L448.80,27.44 L449.57,27.20 L450.34,26.97 L451.11,26.74 L451.88,26.52 L452.65,26.30 L453.42,26.08 L454.19,25.87 L454.96,25.66 L455.73,25.45 L456.50,25.25 L457.27,25.06 L458.04,24.86 L458.81,24.67 L459.58,24.49 L460.35,24.31 L461.12,24.13 L461.89,23.95 L462.66,23.78 L463.43,23.61 L464.20,23.45 L464.97,23.28 L465.74,23.12 L466.51,22.97 L467.28,22.81 L468.05,22.66 L468.82,22.52 L469.59,22.37 L470.36,22.23 L471.13,22.09 L471.90,21.95 L472.67,21.82 L473.44,21.69 L474.21,21.56 L474.98,21.44 L475.75,21.31 L476.52,21.19 L477.29,21.07 L478.06,20.96 L478.83,20.84 L479.60,20.73 L480.37,20.62 L481.14,20.52 L481.91,20.41 L482.68,20.31 L483.45,20.21 L484.22,20.11 L484.99,20.01 L485.76,19.92 L486.53,19.82 L487.30,19.73" stroke="#b47c42" stroke-width="1.55" fill="none" stroke-linejoin="round"/>
<path d="M302.50,156.55 L303.27,156.21 L304.04,155.86 L304.81,155.50 L305.58,155.13 L306.35,154.74 L307.12,154.34 L307.89,153.93 L308.66,153.51 L309.43,153.07 L310.20,152.62 L310.97,152.16 L311.74,151.69 L312.51,151.20 L313.28,150.70 L314.05,150.19 L314.82,149.67 L315.59,149.13 L316.36,148.58 L317.13,148.02 L317.90,147.44 L318.67,146.86 L319.44,146.26 L320.21,145.64 L320.98,145.02 L321.75,144.38 L322.52,143.73 L323.29,143.07 L324.06,142.39 L324.83,141.71 L325.60,141.01 L326.37,140.30 L327.14,139.58 L327.91,138.85 L328.68,138.11 L329.45,137.35 L330.22,136.59 L330.99,135.81 L331.76,135.03 L332.53,134.23 L333.30,133.42 L334.07,132.61 L334.84,131.78 L335.61,130.95 L336.38,130.10 L337.15,129.25 L337.92,128.39 L338.69,127.52 L339.46,126.64 L340.23,125.76 L341.00,124.86 L341.77,123.96 L342.54,123.06 L343.31,122.14 L344.08,121.22 L344.85,120.29 L345.62,119.36 L346.39,118.42 L347.16,117.48 L347.93,116.53 L348.70,115.58 L349.47,114.62 L350.24,113.66 L351.01,112.70 L351.78,111.73 L352.55,110.76 L353.32,109.78 L354.09,108.81 L354.86,107.83 L355.63,106.85 L356.40,105.87 L357.17,104.88 L357.94,103.90 L358.71,102.91 L359.48,101.92 L360.25,100.94 L361.02,99.95 L361.79,98.97 L362.56,97.98 L363.33,96.99 L364.10,96.01 L364.87,95.03 L365.64,94.05 L366.41,93.07 L367.18,92.09 L367.95,91.12 L368.72,90.15 L369.49,89.18 L370.26,88.22 L371.03,87.25 L371.80,86.30 L372.57,85.34 L373.34,84.39 L374.11,83.45 L374.88,82.51 L375.65,81.57 L376.42,80.64 L377.19,79.71 L377.96,78.79 L378.73,77.87 L379.50,76.96 L380.27,76.06 L381.04,75.16 L381.81,74.27 L382.58,73.38 L383.35,72.50 L384.12,71.63 L384.89,70.76 L385.66,69.90 L386.43,69.05 L387.20,68.20 L387.97,67.36 L388.74,66.53 L389.51,65.71 L390.28,64.89 L391.05,64.08 L391.82,63.28 L392.59,62.48 L393.36,61.70 L394.13,60.92 L394.90,60.15 L395.67,59.39 L396.44,58.63 L397.21,57.89 L397.98,57.15 L398.75,56.42 L399.52,55.70 L400.29,54.98 L401.06,54.28 L401.83,53.58 L402.60,52.90 L403.37,52.22 L404.14,51.54 L404.91,50.88 L405.68,50.23 L406.45,49.58 L407.22,48.94 L407.99,48.31 L408.76,47.69 L409.53,47.08 L410.30,46.48 L411.07,45.88 L411.84,45.29 L412.61,44.71 L413.38,44.14 L414.15,43.58 L414.92,43.02 L415.69,42.48 L416.46,41.94 L417.23,41.41 L418.00,40.89 L418.77,40.37 L419.54,39.87 L420.31,39.37 L421.08,38.88 L421.85,38.40 L422.62,37.92 L423.39,37.45 L424.16,37.00 L424.93,36.54 L425.70,36.10 L426.47,35.66 L427.24,35.23 L428.01,34.81 L428.78,34.40 L429.55,33.99 L430.32,33.59 L431.09,33.19 L431.86,32.81 L432.63,32.43 L433.40,32.05 L434.17,31.69 L434.94,31.33 L435.71,30.97 L436.48,30.63 L437.25,30.29 L438.02,29.95 L438.79,29.63 L439.56,29.30 L440.33,28.99 L441.10,28.68 L441.87,28.38 L442.64,28.08 L443.41,27.79 L444.18,27.50 L444.95,27.22 L445.72,26.95 L446.49,26.68 L447.26,26.41 L448.03,26.15 L448.80,25.90 L449.57,25.65 L450.34,25.41 L451.11,25.17 L451.88,24.94 L452.65,24.71 L453.42,24.49 L454.19,24.27 L454.96,24.05 L455.73,23.85 L456.50,23.64 L457.27,23.44 L458.04,23.24 L458.81,23.05 L459.58,22.86 L460.35,22.68 L461.12,22.50 L461.89,22.32 L462.66,22.15 L463.43,21.98 L464.20,21.82 L464.97,21.66 L465.74,21.50 L466.51,21.35 L467.28,21.20 L468.05,21.05 L468.82,20.91 L469.59,20.77 L470.36,20.63 L471.13,20.50 L471.90,20.37 L472.67,20.24 L473.44,20.12 L474.21,20.00 L474.98,19.88 L475.75,19.76 L476.52,19.65 L477.29,19.54 L478.06,19.43 L478.83,19.33 L479.60,19.22 L480.37,19.12 L481.14,19.03 L481.91,18.93 L482.68,18.84 L483.45,18.75 L484.22,18.66 L484.99,18.57 L485.76,18.49 L486.53,18.41 L487.30,18.33" stroke="#6b6b6b" stroke-width="1.55" fill="none" stroke-linejoin="round"/>
<path d="M302.50,163.20v-1.90M302.50,15.50v1.90M333.30,163.20v-1.90M333.30,15.50v1.90M364.10,163.20v-1.90M364.10,15.50v1.90M394.90,163.20v-1.90M394.90,15.50v1.90M425.70,163.20v-1.90M425.70,15.50v1.90M456.50,163.20v-1.90M456.50,15.50v1.90M487.30,163.20v-1.90M487.30,15.50v1.90M301.40,163.20h1.90M488.10,163.20h-1.90M301.40,148.43h1.90M488.10,148.43h-1.90M301.40,133.66h1.90M488.10,133.66h-1.90M301.40,118.89h1.90M488.10,118.89h-1.90M301.40,104.12h1.90M488.10,104.12h-1.90M301.40,89.35h1.90M488.10,89.35h-1.90M301.40,74.58h1.90M488.10,74.58h-1.90M301.40,59.81h1.90M488.10,59.81h-1.90M301.40,45.04h1.90M488.10,45.04h-1.90M301.40,30.27h1.90M488.10,30.27h-1.90M301.40,15.50h1.90M488.10,15.50h-1.90" stroke="#8a8a8a" stroke-width="0.8" fill="none"/>
<rect x="301.40" y="15.50" width="186.70" height="147.70" stroke="#8a8a8a" stroke-width="1" fill="none"/>
<text x="302.50" y="171.80" text-anchor="middle" font-size="6.4">60</text>
<text x="333.30" y="171.80" text-anchor="middle" font-size="6.4">80</text>
<text x="364.10" y="171.80" text-anchor="middle" font-size="6.4">100</text>
<text x="394.90" y="171.80" text-anchor="middle" font-size="6.4">120</text>
<text x="425.70" y="171.80" text-anchor="middle" font-size="6.4">140</text>
<text x="456.50" y="171.80" text-anchor="middle" font-size="6.4">160</text>
<text x="487.30" y="171.80" text-anchor="middle" font-size="6.4">180</text>
<text x="298.40" y="165.70" text-anchor="end" font-size="6.4">0</text>
<text x="298.40" y="150.93" text-anchor="end" font-size="6.4">0.1</text>
<text x="298.40" y="136.16" text-anchor="end" font-size="6.4">0.2</text>
<text x="298.40" y="121.39" text-anchor="end" font-size="6.4">0.3</text>
<text x="298.40" y="106.62" text-anchor="end" font-size="6.4">0.4</text>
<text x="298.40" y="91.85" text-anchor="end" font-size="6.4">0.5</text>
<text x="298.40" y="77.08" text-anchor="end" font-size="6.4">0.6</text>
<text x="298.40" y="62.31" text-anchor="end" font-size="6.4">0.7</text>
<text x="298.40" y="47.54" text-anchor="end" font-size="6.4">0.8</text>
<text x="298.40" y="32.77" text-anchor="end" font-size="6.4">0.9</text>
<text x="298.40" y="18.00" text-anchor="end" font-size="6.4">1</text>
<text x="394.75" y="180.10" text-anchor="middle" font-size="7.0">SMD</text>
<text transform="translate(286.10,89.35) rotate(-90)" text-anchor="middle" font-size="7.0">Cumulative probability</text>
<text x="282.10" y="176.60" text-anchor="middle" font-size="12.6" style="fill:#222;stroke:#222;stroke-width:0.25">d</text>
<rect x="306.00" y="20.30" width="48.40" height="34.60" fill="#fff" stroke="#8a8a8a" stroke-width="0.9"/>
<path d="M307.60,24.40h16.80" stroke="#a98ccf" stroke-width="1.0"/>
<text x="326.30" y="26.30" font-size="5.15">2mm</text>
<path d="M307.60,31.05h16.80" stroke="#d43a3c" stroke-width="1.6"/>
<text x="326.30" y="32.95" font-size="5.15">Normal</text>
<path d="M307.60,37.70h16.80" stroke="#2e28c4" stroke-width="1.6"/>
<text x="326.30" y="39.60" font-size="5.15">Weibull</text>
<path d="M307.60,44.35h16.80" stroke="#b47c42" stroke-width="1.6"/>
<text x="326.30" y="46.25" font-size="5.15">Log normal</text>
<path d="M307.60,51.00h16.80" stroke="#6b6b6b" stroke-width="1.6"/>
<text x="326.30" y="52.90" font-size="5.15">Gamma</text>
</g>
<g>
<path d="M302.50,344.40 L309.23,344.40 L309.23,340.30 L311.74,340.30 L311.74,336.19 L314.25,336.19 L314.25,332.09 L321.38,332.09 L321.38,327.99 L327.05,327.99 L327.05,323.89 L332.60,323.89 L332.60,319.78 L336.16,319.78 L336.16,315.68 L336.16,315.68 L336.16,311.58 L339.20,311.58 L339.20,307.47 L342.76,307.47 L342.76,303.37 L347.51,303.37 L347.51,299.27 L362.82,299.27 L362.82,295.17 L363.75,295.17 L363.75,291.06 L365.33,291.06 L365.33,286.96 L380.12,286.96 L380.12,282.86 L380.38,282.86 L380.38,278.76 L380.78,278.76 L380.78,274.65 L387.64,274.65 L387.64,270.55 L393.45,270.55 L393.45,266.45 L404.01,266.45 L404.01,262.34 L408.50,262.34 L408.50,258.24 L413.64,258.24 L413.64,254.14 L416.15,254.14 L416.15,250.04 L419.32,250.04 L419.32,245.93 L428.16,245.93 L428.16,241.83 L430.80,241.83 L430.80,237.73 L434.63,237.73 L434.63,233.62 L435.82,233.62 L435.82,229.52 L438.46,229.52 L438.46,225.42 L440.97,225.42 L440.97,221.32 L441.76,221.32 L441.76,217.21 L446.91,217.21 L446.91,213.11 L461.56,213.11 L461.56,209.01 L464.86,209.01 L464.86,204.91 L465.12,204.91 L465.12,200.80 L477.53,200.80 L477.53,196.70 L487.30,196.70" stroke="#a98ccf" stroke-width="1.0" fill="none"/>
<path d="M302.50,338.23 L303.27,338.03 L304.04,337.82 L304.81,337.61 L305.58,337.39 L306.35,337.17 L307.12,336.94 L307.89,336.71 L308.66,336.47 L309.43,336.22 L310.20,335.97 L310.97,335.71 L311.74,335.45 L312.51,335.18 L313.28,334.90 L314.05,334.62 L314.82,334.33 L315.59,334.03 L316.36,333.73 L317.13,333.42 L317.90,333.10 L318.67,332.78 L319.44,332.44 L320.21,332.11 L320.98,331.76 L321.75,331.41 L322.52,331.05 L323.29,330.68 L324.06,330.31 L324.83,329.93 L325.60,329.54 L326.37,329.14 L327.14,328.74 L327.91,328.33 L328.68,327.91 L329.45,327.48 L330.22,327.04 L330.99,326.60 L331.76,326.15 L332.53,325.69 L333.30,325.22 L334.07,324.75 L334.84,324.27 L335.61,323.77 L336.38,323.28 L337.15,322.77 L337.92,322.25 L338.69,321.73 L339.46,321.20 L340.23,320.66 L341.00,320.11 L341.77,319.55 L342.54,318.99 L343.31,318.42 L344.08,317.84 L344.85,317.25 L345.62,316.65 L346.39,316.05 L347.16,315.44 L347.93,314.82 L348.70,314.19 L349.47,313.55 L350.24,312.91 L351.01,312.25 L351.78,311.60 L352.55,310.93 L353.32,310.25 L354.09,309.57 L354.86,308.88 L355.63,308.18 L356.40,307.48 L357.17,306.77 L357.94,306.05 L358.71,305.32 L359.48,304.59 L360.25,303.85 L361.02,303.11 L361.79,302.35 L362.56,301.59 L363.33,300.83 L364.10,300.06 L364.87,299.28 L365.64,298.49 L366.41,297.70 L367.18,296.91 L367.95,296.11 L368.72,295.30 L369.49,294.49 L370.26,293.67 L371.03,292.85 L371.80,292.02 L372.57,291.19 L373.34,290.35 L374.11,289.51 L374.88,288.67 L375.65,287.82 L376.42,286.97 L377.19,286.11 L377.96,285.25 L378.73,284.39 L379.50,283.52 L380.27,282.66 L381.04,281.78 L381.81,280.91 L382.58,280.03 L383.35,279.16 L384.12,278.27 L384.89,277.39 L385.66,276.51 L386.43,275.62 L387.20,274.74 L387.97,273.85 L388.74,272.96 L389.51,272.07 L390.28,271.19 L391.05,270.30 L391.82,269.41 L392.59,268.52 L393.36,267.63 L394.13,266.74 L394.90,265.86 L395.67,264.97 L396.44,264.09 L397.21,263.20 L397.98,262.32 L398.75,261.44 L399.52,260.57 L400.29,259.69 L401.06,258.82 L401.83,257.95 L402.60,257.08 L403.37,256.22 L404.14,255.36 L404.91,254.50 L405.68,253.65 L406.45,252.80 L407.22,251.95 L407.99,251.11 L408.76,250.27 L409.53,249.44 L410.30,248.61 L411.07,247.78 L411.84,246.96 L412.61,246.15 L413.38,245.34 L414.15,244.54 L414.92,243.74 L415.69,242.95 L416.46,242.16 L417.23,241.38 L418.00,240.60 L418.77,239.84 L419.54,239.07 L420.31,238.32 L421.08,237.57 L421.85,236.83 L422.62,236.09 L423.39,235.36 L424.16,234.64 L424.93,233.93 L425.70,233.22 L426.47,232.52 L427.24,231.82 L428.01,231.14 L428.78,230.46 L429.55,229.79 L430.32,229.13 L431.09,228.47 L431.86,227.82 L432.63,227.19 L433.40,226.55 L434.17,225.93 L434.94,225.31 L435.71,224.71 L436.48,224.11 L437.25,223.51 L438.02,222.93 L438.79,222.35 L439.56,221.79 L440.33,221.23 L441.10,220.68 L441.87,220.13 L442.64,219.60 L443.41,219.07 L444.18,218.55 L444.95,218.04 L445.72,217.54 L446.49,217.04 L447.26,216.56 L448.03,216.08 L448.80,215.61 L449.57,215.15 L450.34,214.69 L451.11,214.25 L451.88,213.81 L452.65,213.38 L453.42,212.95 L454.19,212.54 L454.96,212.13 L455.73,211.73 L456.50,211.34 L457.27,210.95 L458.04,210.58 L458.81,210.21 L459.58,209.84 L460.35,209.49 L461.12,209.14 L461.89,208.80 L462.66,208.47 L463.43,208.14 L464.20,207.82 L464.97,207.51 L465.74,207.20 L466.51,206.90 L467.28,206.61 L468.05,206.32 L468.82,206.04 L469.59,205.77 L470.36,205.50 L471.13,205.24 L471.90,204.99 L472.67,204.74 L473.44,204.49 L474.21,204.26 L474.98,204.03 L475.75,203.80 L476.52,203.58 L477.29,203.37 L478.06,203.16 L478.83,202.95 L479.60,202.76 L480.37,202.56 L481.14,202.37 L481.91,202.19 L482.68,202.01 L483.45,201.84 L484.22,201.67 L484.99,201.50 L485.76,201.34 L486.53,201.19 L487.30,201.04" stroke="#d43a3c" stroke-width="1.55" fill="none" stroke-linejoin="round"/>
<path d="M302.50,339.89 L303.27,339.68 L304.04,339.47 L304.81,339.25 L305.58,339.02 L306.35,338.79 L307.12,338.55 L307.89,338.30 L308.66,338.05 L309.43,337.79 L310.20,337.52 L310.97,337.25 L311.74,336.96 L312.51,336.68 L313.28,336.38 L314.05,336.08 L314.82,335.77 L315.59,335.45 L316.36,335.13 L317.13,334.80 L317.90,334.46 L318.67,334.11 L319.44,333.75 L320.21,333.39 L320.98,333.02 L321.75,332.65 L322.52,332.26 L323.29,331.87 L324.06,331.47 L324.83,331.06 L325.60,330.64 L326.37,330.22 L327.14,329.78 L327.91,329.34 L328.68,328.90 L329.45,328.44 L330.22,327.98 L330.99,327.50 L331.76,327.02 L332.53,326.53 L333.30,326.04 L334.07,325.53 L334.84,325.02 L335.61,324.50 L336.38,323.97 L337.15,323.43 L337.92,322.89 L338.69,322.34 L339.46,321.78 L340.23,321.21 L341.00,320.63 L341.77,320.05 L342.54,319.46 L343.31,318.86 L344.08,318.25 L344.85,317.63 L345.62,317.01 L346.39,316.38 L347.16,315.74 L347.93,315.09 L348.70,314.44 L349.47,313.78 L350.24,313.11 L351.01,312.44 L351.78,311.75 L352.55,311.07 L353.32,310.37 L354.09,309.66 L354.86,308.95 L355.63,308.24 L356.40,307.51 L357.17,306.78 L357.94,306.05 L358.71,305.30 L359.48,304.55 L360.25,303.80 L361.02,303.04 L361.79,302.27 L362.56,301.49 L363.33,300.71 L364.10,299.93 L364.87,299.14 L365.64,298.34 L366.41,297.54 L367.18,296.74 L367.95,295.93 L368.72,295.11 L369.49,294.29 L370.26,293.46 L371.03,292.64 L371.80,291.80 L372.57,290.96 L373.34,290.12 L374.11,289.28 L374.88,288.43 L375.65,287.58 L376.42,286.72 L377.19,285.86 L377.96,285.00 L378.73,284.14 L379.50,283.27 L380.27,282.40 L381.04,281.53 L381.81,280.65 L382.58,279.78 L383.35,278.90 L384.12,278.02 L384.89,277.14 L385.66,276.26 L386.43,275.38 L387.20,274.49 L387.97,273.61 L388.74,272.72 L389.51,271.84 L390.28,270.95 L391.05,270.07 L391.82,269.18 L392.59,268.30 L393.36,267.42 L394.13,266.53 L394.90,265.65 L395.67,264.77 L396.44,263.89 L397.21,263.01 L397.98,262.14 L398.75,261.26 L399.52,260.39 L400.29,259.52 L401.06,258.65 L401.83,257.79 L402.60,256.92 L403.37,256.06 L404.14,255.21 L404.91,254.35 L405.68,253.50 L406.45,252.66 L407.22,251.82 L407.99,250.98 L408.76,250.14 L409.53,249.31 L410.30,248.49 L411.07,247.67 L411.84,246.85 L412.61,246.04 L413.38,245.23 L414.15,244.43 L414.92,243.63 L415.69,242.84 L416.46,242.06 L417.23,241.28 L418.00,240.50 L418.77,239.73 L419.54,238.97 L420.31,238.22 L421.08,237.47 L421.85,236.72 L422.62,235.99 L423.39,235.26 L424.16,234.54 L424.93,233.82 L425.70,233.11 L426.47,232.41 L427.24,231.71 L428.01,231.02 L428.78,230.34 L429.55,229.67 L430.32,229.00 L431.09,228.34 L431.86,227.69 L432.63,227.05 L433.40,226.41 L434.17,225.79 L434.94,225.17 L435.71,224.55 L436.48,223.95 L437.25,223.35 L438.02,222.76 L438.79,222.18 L439.56,221.61 L440.33,221.04 L441.10,220.49 L441.87,219.94 L442.64,219.40 L443.41,218.86 L444.18,218.34 L444.95,217.82 L445.72,217.31 L446.49,216.81 L447.26,216.32 L448.03,215.84 L448.80,215.36 L449.57,214.89 L450.34,214.43 L451.11,213.98 L451.88,213.53 L452.65,213.10 L453.42,212.67 L454.19,212.25 L454.96,211.83 L455.73,211.43 L456.50,211.03 L457.27,210.64 L458.04,210.26 L458.81,209.88 L459.58,209.51 L460.35,209.15 L461.12,208.80 L461.89,208.46 L462.66,208.12 L463.43,207.79 L464.20,207.46 L464.97,207.15 L465.74,206.84 L466.51,206.53 L467.28,206.24 L468.05,205.95 L468.82,205.67 L469.59,205.39 L470.36,205.12 L471.13,204.86 L471.90,204.60 L472.67,204.35 L473.44,204.11 L474.21,203.87 L474.98,203.63 L475.75,203.41 L476.52,203.19 L477.29,202.97 L478.06,202.76 L478.83,202.56 L479.60,202.36 L480.37,202.17 L481.14,201.98 L481.91,201.80 L482.68,201.62 L483.45,201.45 L484.22,201.28 L484.99,201.12 L485.76,200.96 L486.53,200.80 L487.30,200.66" stroke="#2e28c4" stroke-width="1.55" fill="none" stroke-linejoin="round"/>
<path d="M302.50,342.57 L303.27,342.40 L304.04,342.21 L304.81,342.01 L305.58,341.80 L306.35,341.58 L307.12,341.34 L307.89,341.09 L308.66,340.83 L309.43,340.55 L310.20,340.26 L310.97,339.95 L311.74,339.63 L312.51,339.30 L313.28,338.95 L314.05,338.59 L314.82,338.21 L315.59,337.82 L316.36,337.41 L317.13,336.99 L317.90,336.55 L318.67,336.10 L319.44,335.63 L320.21,335.15 L320.98,334.65 L321.75,334.14 L322.52,333.61 L323.29,333.07 L324.06,332.51 L324.83,331.94 L325.60,331.36 L326.37,330.76 L327.14,330.15 L327.91,329.53 L328.68,328.89 L329.45,328.23 L330.22,327.57 L330.99,326.89 L331.76,326.20 L332.53,325.50 L333.30,324.79 L334.07,324.06 L334.84,323.33 L335.61,322.58 L336.38,321.82 L337.15,321.05 L337.92,320.27 L338.69,319.48 L339.46,318.69 L340.23,317.88 L341.00,317.06 L341.77,316.24 L342.54,315.41 L343.31,314.57 L344.08,313.72 L344.85,312.87 L345.62,312.01 L346.39,311.14 L347.16,310.27 L347.93,309.39 L348.70,308.51 L349.47,307.62 L350.24,306.73 L351.01,305.83 L351.78,304.93 L352.55,304.02 L353.32,303.11 L354.09,302.20 L354.86,301.29 L355.63,300.37 L356.40,299.46 L357.17,298.54 L357.94,297.61 L358.71,296.69 L359.48,295.77 L360.25,294.84 L361.02,293.92 L361.79,293.00 L362.56,292.07 L363.33,291.15 L364.10,290.23 L364.87,289.30 L365.64,288.38 L366.41,287.46 L367.18,286.55 L367.95,285.63 L368.72,284.72 L369.49,283.81 L370.26,282.90 L371.03,281.99 L371.80,281.09 L372.57,280.19 L373.34,279.30 L374.11,278.40 L374.88,277.51 L375.65,276.63 L376.42,275.75 L377.19,274.87 L377.96,274.00 L378.73,273.13 L379.50,272.27 L380.27,271.41 L381.04,270.56 L381.81,269.71 L382.58,268.86 L383.35,268.03 L384.12,267.19 L384.89,266.36 L385.66,265.54 L386.43,264.73 L387.20,263.92 L387.97,263.11 L388.74,262.31 L389.51,261.52 L390.28,260.73 L391.05,259.95 L391.82,259.17 L392.59,258.41 L393.36,257.64 L394.13,256.89 L394.90,256.14 L395.67,255.39 L396.44,254.66 L397.21,253.92 L397.98,253.20 L398.75,252.48 L399.52,251.77 L400.29,251.07 L401.06,250.37 L401.83,249.68 L402.60,248.99 L403.37,248.31 L404.14,247.64 L404.91,246.98 L405.68,246.32 L406.45,245.67 L407.22,245.02 L407.99,244.38 L408.76,243.75 L409.53,243.12 L410.30,242.50 L411.07,241.89 L411.84,241.29 L412.61,240.69 L413.38,240.09 L414.15,239.51 L414.92,238.93 L415.69,238.35 L416.46,237.79 L417.23,237.23 L418.00,236.67 L418.77,236.12 L419.54,235.58 L420.31,235.05 L421.08,234.52 L421.85,233.99 L422.62,233.48 L423.39,232.97 L424.16,232.46 L424.93,231.96 L425.70,231.47 L426.47,230.98 L427.24,230.50 L428.01,230.03 L428.78,229.56 L429.55,229.09 L430.32,228.64 L431.09,228.18 L431.86,227.74 L432.63,227.30 L433.40,226.86 L434.17,226.43 L434.94,226.01 L435.71,225.59 L436.48,225.18 L437.25,224.77 L438.02,224.36 L438.79,223.97 L439.56,223.57 L440.33,223.19 L441.10,222.80 L441.87,222.43 L442.64,222.05 L443.41,221.69 L444.18,221.32 L444.95,220.97 L445.72,220.61 L446.49,220.27 L447.26,219.92 L448.03,219.58 L448.80,219.25 L449.57,218.92 L450.34,218.59 L451.11,218.27 L451.88,217.96 L452.65,217.64 L453.42,217.34 L454.19,217.03 L454.96,216.73 L455.73,216.44 L456.50,216.15 L457.27,215.86 L458.04,215.58 L458.81,215.30 L459.58,215.02 L460.35,214.75 L461.12,214.48 L461.89,214.22 L462.66,213.96 L463.43,213.70 L464.20,213.45 L464.97,213.20 L465.74,212.95 L466.51,212.71 L467.28,212.47 L468.05,212.24 L468.82,212.01 L469.59,211.78 L470.36,211.55 L471.13,211.33 L471.90,211.11 L472.67,210.89 L473.44,210.68 L474.21,210.47 L474.98,210.27 L475.75,210.06 L476.52,209.86 L477.29,209.66 L478.06,209.47 L478.83,209.28 L479.60,209.09 L480.37,208.90 L481.14,208.72 L481.91,208.54 L482.68,208.36 L483.45,208.18 L484.22,208.01 L484.99,207.84 L485.76,207.67 L486.53,207.51 L487.30,207.34" stroke="#b47c42" stroke-width="1.55" fill="none" stroke-linejoin="round"/>
<path d="M302.50,341.70 L303.27,341.51 L304.04,341.31 L304.81,341.10 L305.58,340.87 L306.35,340.64 L307.12,340.40 L307.89,340.15 L308.66,339.89 L309.43,339.62 L310.20,339.34 L310.97,339.05 L311.74,338.74 L312.51,338.43 L313.28,338.10 L314.05,337.76 L314.82,337.41 L315.59,337.05 L316.36,336.68 L317.13,336.30 L317.90,335.90 L318.67,335.49 L319.44,335.08 L320.21,334.65 L320.98,334.20 L321.75,333.75 L322.52,333.28 L323.29,332.81 L324.06,332.32 L324.83,331.82 L325.60,331.31 L326.37,330.78 L327.14,330.25 L327.91,329.70 L328.68,329.14 L329.45,328.57 L330.22,327.99 L330.99,327.40 L331.76,326.80 L332.53,326.18 L333.30,325.56 L334.07,324.92 L334.84,324.28 L335.61,323.62 L336.38,322.96 L337.15,322.28 L337.92,321.60 L338.69,320.90 L339.46,320.20 L340.23,319.48 L341.00,318.76 L341.77,318.03 L342.54,317.29 L343.31,316.54 L344.08,315.78 L344.85,315.02 L345.62,314.24 L346.39,313.46 L347.16,312.68 L347.93,311.88 L348.70,311.08 L349.47,310.27 L350.24,309.45 L351.01,308.63 L351.78,307.80 L352.55,306.97 L353.32,306.13 L354.09,305.29 L354.86,304.44 L355.63,303.58 L356.40,302.73 L357.17,301.86 L357.94,301.00 L358.71,300.12 L359.48,299.25 L360.25,298.37 L361.02,297.49 L361.79,296.61 L362.56,295.72 L363.33,294.83 L364.10,293.94 L364.87,293.05 L365.64,292.15 L366.41,291.26 L367.18,290.36 L367.95,289.46 L368.72,288.56 L369.49,287.66 L370.26,286.76 L371.03,285.86 L371.80,284.96 L372.57,284.06 L373.34,283.17 L374.11,282.27 L374.88,281.37 L375.65,280.47 L376.42,279.58 L377.19,278.69 L377.96,277.79 L378.73,276.91 L379.50,276.02 L380.27,275.13 L381.04,274.25 L381.81,273.37 L382.58,272.49 L383.35,271.62 L384.12,270.75 L384.89,269.88 L385.66,269.01 L386.43,268.15 L387.20,267.30 L387.97,266.44 L388.74,265.59 L389.51,264.75 L390.28,263.91 L391.05,263.07 L391.82,262.24 L392.59,261.41 L393.36,260.59 L394.13,259.77 L394.90,258.96 L395.67,258.15 L396.44,257.35 L397.21,256.56 L397.98,255.76 L398.75,254.98 L399.52,254.20 L400.29,253.42 L401.06,252.65 L401.83,251.89 L402.60,251.13 L403.37,250.38 L404.14,249.64 L404.91,248.90 L405.68,248.17 L406.45,247.44 L407.22,246.72 L407.99,246.00 L408.76,245.30 L409.53,244.59 L410.30,243.90 L411.07,243.21 L411.84,242.53 L412.61,241.85 L413.38,241.18 L414.15,240.52 L414.92,239.86 L415.69,239.21 L416.46,238.57 L417.23,237.93 L418.00,237.30 L418.77,236.68 L419.54,236.06 L420.31,235.45 L421.08,234.85 L421.85,234.26 L422.62,233.67 L423.39,233.08 L424.16,232.51 L424.93,231.94 L425.70,231.37 L426.47,230.82 L427.24,230.27 L428.01,229.72 L428.78,229.19 L429.55,228.65 L430.32,228.13 L431.09,227.61 L431.86,227.10 L432.63,226.60 L433.40,226.10 L434.17,225.61 L434.94,225.12 L435.71,224.64 L436.48,224.17 L437.25,223.70 L438.02,223.24 L438.79,222.79 L439.56,222.34 L440.33,221.90 L441.10,221.46 L441.87,221.03 L442.64,220.61 L443.41,220.19 L444.18,219.78 L444.95,219.37 L445.72,218.97 L446.49,218.58 L447.26,218.19 L448.03,217.80 L448.80,217.43 L449.57,217.05 L450.34,216.69 L451.11,216.33 L451.88,215.97 L452.65,215.62 L453.42,215.27 L454.19,214.93 L454.96,214.60 L455.73,214.27 L456.50,213.94 L457.27,213.63 L458.04,213.31 L458.81,213.00 L459.58,212.70 L460.35,212.40 L461.12,212.10 L461.89,211.81 L462.66,211.52 L463.43,211.24 L464.20,210.97 L464.97,210.69 L465.74,210.43 L466.51,210.16 L467.28,209.90 L468.05,209.65 L468.82,209.40 L469.59,209.15 L470.36,208.91 L471.13,208.67 L471.90,208.44 L472.67,208.21 L473.44,207.98 L474.21,207.76 L474.98,207.54 L475.75,207.33 L476.52,207.12 L477.29,206.91 L478.06,206.71 L478.83,206.51 L479.60,206.31 L480.37,206.12 L481.14,205.93 L481.91,205.74 L482.68,205.56 L483.45,205.38 L484.22,205.20 L484.99,205.03 L485.76,204.86 L486.53,204.69 L487.30,204.53" stroke="#6b6b6b" stroke-width="1.55" fill="none" stroke-linejoin="round"/>
<path d="M302.50,344.40v-1.90M302.50,196.70v1.90M328.90,344.40v-1.90M328.90,196.70v1.90M355.30,344.40v-1.90M355.30,196.70v1.90M381.70,344.40v-1.90M381.70,196.70v1.90M408.10,344.40v-1.90M408.10,196.70v1.90M434.50,344.40v-1.90M434.50,196.70v1.90M460.90,344.40v-1.90M460.90,196.70v1.90M487.30,344.40v-1.90M487.30,196.70v1.90M301.40,344.40h1.90M488.10,344.40h-1.90M301.40,329.63h1.90M488.10,329.63h-1.90M301.40,314.86h1.90M488.10,314.86h-1.90M301.40,300.09h1.90M488.10,300.09h-1.90M301.40,285.32h1.90M488.10,285.32h-1.90M301.40,270.55h1.90M488.10,270.55h-1.90M301.40,255.78h1.90M488.10,255.78h-1.90M301.40,241.01h1.90M488.10,241.01h-1.90M301.40,226.24h1.90M488.10,226.24h-1.90M301.40,211.47h1.90M488.10,211.47h-1.90M301.40,196.70h1.90M488.10,196.70h-1.90" stroke="#8a8a8a" stroke-width="0.8" fill="none"/>
<rect x="301.40" y="196.70" width="186.70" height="147.70" stroke="#8a8a8a" stroke-width="1" fill="none"/>
<text x="302.50" y="353.00" text-anchor="middle" font-size="6.4">40</text>
<text x="328.90" y="353.00" text-anchor="middle" font-size="6.4">60</text>
<text x="355.30" y="353.00" text-anchor="middle" font-size="6.4">80</text>
<text x="381.70" y="353.00" text-anchor="middle" font-size="6.4">100</text>
<text x="408.10" y="353.00" text-anchor="middle" font-size="6.4">120</text>
<text x="434.50" y="353.00" text-anchor="middle" font-size="6.4">140</text>
<text x="460.90" y="353.00" text-anchor="middle" font-size="6.4">160</text>
<text x="487.30" y="353.00" text-anchor="middle" font-size="6.4">180</text>
<text x="298.40" y="346.90" text-anchor="end" font-size="6.4">0</text>
<text x="298.40" y="332.13" text-anchor="end" font-size="6.4">0.1</text>
<text x="298.40" y="317.36" text-anchor="end" font-size="6.4">0.2</text>
<text x="298.40" y="302.59" text-anchor="end" font-size="6.4">0.3</text>
<text x="298.40" y="287.82" text-anchor="end" font-size="6.4">0.4</text>
<text x="298.40" y="273.05" text-anchor="end" font-size="6.4">0.5</text>
<text x="298.40" y="258.28" text-anchor="end" font-size="6.4">0.6</text>
<text x="298.40" y="243.51" text-anchor="end" font-size="6.4">0.7</text>
<text x="298.40" y="228.74" text-anchor="end" font-size="6.4">0.8</text>
<text x="298.40" y="213.97" text-anchor="end" font-size="6.4">0.9</text>
<text x="298.40" y="199.20" text-anchor="end" font-size="6.4">1</text>
<text x="393.95" y="361.80" text-anchor="middle" font-size="7.0">SMD</text>
<text transform="translate(286.10,270.55) rotate(-90)" text-anchor="middle" font-size="7.0">Cumulative probability</text>
<text x="282.10" y="358.80" text-anchor="middle" font-size="12.6" style="fill:#222;stroke:#222;stroke-width:0.25">e</text>
<rect x="306.00" y="201.50" width="46.60" height="34.60" fill="#fff" stroke="#8a8a8a" stroke-width="0.9"/>
<path d="M307.60,205.60h16.80" stroke="#a98ccf" stroke-width="1.0"/>
<text x="326.30" y="207.50" font-size="5.15">3mm</text>
<path d="M307.60,212.25h16.80" stroke="#d43a3c" stroke-width="1.6"/>
<text x="326.30" y="214.15" font-size="5.15">Normal</text>
<path d="M307.60,218.90h16.80" stroke="#2e28c4" stroke-width="1.6"/>
<text x="326.30" y="220.80" font-size="5.15">Weibull</text>
<path d="M307.60,225.55h16.80" stroke="#b47c42" stroke-width="1.6"/>
<text x="326.30" y="227.45" font-size="5.15">Lognormal</text>
<path d="M307.60,232.20h16.80" stroke="#6b6b6b" stroke-width="1.6"/>
<text x="326.30" y="234.10" font-size="5.15">Gamma</text>
</g>
<g>
<path d="M302.50,525.40 L312.97,525.40 L312.97,521.31 L327.35,521.31 L327.35,517.21 L330.22,517.21 L330.22,513.12 L334.33,513.12 L334.33,509.02 L338.02,509.02 L338.02,504.93 L340.28,504.93 L340.28,500.83 L342.33,500.83 L342.33,496.74 L346.13,496.74 L346.13,492.64 L348.70,492.64 L348.70,488.55 L351.27,488.55 L351.27,484.46 L353.32,484.46 L353.32,480.36 L355.37,480.36 L355.37,476.27 L357.43,476.27 L357.43,472.17 L359.48,472.17 L359.48,468.08 L361.02,468.08 L361.02,463.98 L362.56,463.98 L362.56,459.89 L363.59,459.89 L363.59,455.79 L366.87,455.79 L366.87,451.70 L369.75,451.70 L369.75,447.61 L369.85,447.61 L369.85,443.51 L373.55,443.51 L373.55,439.42 L375.70,439.42 L375.70,435.32 L378.58,435.32 L378.58,431.23 L381.55,431.23 L381.55,427.13 L384.84,427.13 L384.84,423.04 L388.74,423.04 L388.74,418.94 L390.79,418.94 L390.79,414.85 L393.36,414.85 L393.36,410.76 L395.93,410.76 L395.93,406.66 L399.93,406.66 L399.93,402.57 L403.83,402.57 L403.83,398.47 L414.71,398.47 L414.71,394.38 L424.57,394.38 L424.57,390.28 L427.75,390.28 L427.75,386.19 L447.26,386.19 L447.26,382.09 L469.03,382.09 L469.03,378.00 L487.30,378.00" stroke="#a98ccf" stroke-width="1.0" fill="none"/>
<path d="M302.50,522.62 L303.27,522.47 L304.04,522.31 L304.81,522.13 L305.58,521.95 L306.35,521.77 L307.12,521.57 L307.89,521.37 L308.66,521.15 L309.43,520.93 L310.20,520.70 L310.97,520.46 L311.74,520.20 L312.51,519.94 L313.28,519.67 L314.05,519.38 L314.82,519.09 L315.59,518.78 L316.36,518.46 L317.13,518.13 L317.90,517.78 L318.67,517.43 L319.44,517.06 L320.21,516.67 L320.98,516.27 L321.75,515.86 L322.52,515.44 L323.29,515.00 L324.06,514.54 L324.83,514.07 L325.60,513.58 L326.37,513.08 L327.14,512.57 L327.91,512.03 L328.68,511.48 L329.45,510.92 L330.22,510.33 L330.99,509.73 L331.76,509.12 L332.53,508.48 L333.30,507.83 L334.07,507.16 L334.84,506.48 L335.61,505.77 L336.38,505.05 L337.15,504.31 L337.92,503.56 L338.69,502.78 L339.46,501.99 L340.23,501.17 L341.00,500.34 L341.77,499.50 L342.54,498.63 L343.31,497.75 L344.08,496.85 L344.85,495.93 L345.62,494.99 L346.39,494.04 L347.16,493.07 L347.93,492.08 L348.70,491.07 L349.47,490.05 L350.24,489.01 L351.01,487.96 L351.78,486.89 L352.55,485.80 L353.32,484.70 L354.09,483.59 L354.86,482.46 L355.63,481.31 L356.40,480.16 L357.17,478.98 L357.94,477.80 L358.71,476.60 L359.48,475.40 L360.25,474.18 L361.02,472.95 L361.79,471.71 L362.56,470.46 L363.33,469.20 L364.10,467.93 L364.87,466.66 L365.64,465.37 L366.41,464.08 L367.18,462.79 L367.95,461.49 L368.72,460.18 L369.49,458.87 L370.26,457.56 L371.03,456.24 L371.80,454.92 L372.57,453.60 L373.34,452.28 L374.11,450.95 L374.88,449.63 L375.65,448.31 L376.42,446.99 L377.19,445.68 L377.96,444.36 L378.73,443.05 L379.50,441.75 L380.27,440.45 L381.04,439.15 L381.81,437.86 L382.58,436.58 L383.35,435.31 L384.12,434.04 L384.89,432.78 L385.66,431.53 L386.43,430.29 L387.20,429.07 L387.97,427.85 L388.74,426.64 L389.51,425.45 L390.28,424.27 L391.05,423.10 L391.82,421.94 L392.59,420.80 L393.36,419.67 L394.13,418.56 L394.90,417.46 L395.67,416.37 L396.44,415.31 L397.21,414.25 L397.98,413.22 L398.75,412.20 L399.52,411.20 L400.29,410.21 L401.06,409.24 L401.83,408.29 L402.60,407.35 L403.37,406.44 L404.14,405.54 L404.91,404.66 L405.68,403.79 L406.45,402.95 L407.22,402.12 L407.99,401.31 L408.76,400.52 L409.53,399.75 L410.30,398.99 L411.07,398.25 L411.84,397.53 L412.61,396.83 L413.38,396.15 L414.15,395.48 L414.92,394.83 L415.69,394.20 L416.46,393.59 L417.23,392.99 L418.00,392.41 L418.77,391.85 L419.54,391.30 L420.31,390.77 L421.08,390.25 L421.85,389.75 L422.62,389.27 L423.39,388.80 L424.16,388.35 L424.93,387.91 L425.70,387.48 L426.47,387.07 L427.24,386.68 L428.01,386.30 L428.78,385.93 L429.55,385.57 L430.32,385.23 L431.09,384.90 L431.86,384.58 L432.63,384.27 L433.40,383.98 L434.17,383.70 L434.94,383.42 L435.71,383.16 L436.48,382.91 L437.25,382.67 L438.02,382.44 L438.79,382.22 L439.56,382.01 L440.33,381.80 L441.10,381.61 L441.87,381.42 L442.64,381.24 L443.41,381.07 L444.18,380.91 L444.95,380.76 L445.72,380.61 L446.49,380.47 L447.26,380.33 L448.03,380.20 L448.80,380.08 L449.57,379.97 L450.34,379.85 L451.11,379.75 L451.88,379.65 L452.65,379.55 L453.42,379.46 L454.19,379.38 L454.96,379.30 L455.73,379.22 L456.50,379.15 L457.27,379.08 L458.04,379.01 L458.81,378.95 L459.58,378.89 L460.35,378.84 L461.12,378.79 L461.89,378.74 L462.66,378.69 L463.43,378.65 L464.20,378.60 L464.97,378.57 L465.74,378.53 L466.51,378.49 L467.28,378.46 L468.05,378.43 L468.82,378.40 L469.59,378.38 L470.36,378.35 L471.13,378.33 L471.90,378.30 L472.67,378.28 L473.44,378.26 L474.21,378.25 L474.98,378.23 L475.75,378.21 L476.52,378.20 L477.29,378.18 L478.06,378.17 L478.83,378.16 L479.60,378.15 L480.37,378.14 L481.14,378.13 L481.91,378.12 L482.68,378.11 L483.45,378.10 L484.22,378.09 L484.99,378.08 L485.76,378.08 L486.53,378.07 L487.30,378.07" stroke="#d43a3c" stroke-width="1.55" fill="none" stroke-linejoin="round"/>
<path d="M302.50,522.50 L303.27,522.30 L304.04,522.10 L304.81,521.89 L305.58,521.67 L306.35,521.44 L307.12,521.20 L307.89,520.95 L308.66,520.69 L309.43,520.42 L310.20,520.13 L310.97,519.84 L311.74,519.54 L312.51,519.23 L313.28,518.90 L314.05,518.56 L314.82,518.21 L315.59,517.85 L316.36,517.48 L317.13,517.10 L317.90,516.70 L318.67,516.29 L319.44,515.87 L320.21,515.43 L320.98,514.98 L321.75,514.52 L322.52,514.04 L323.29,513.55 L324.06,513.05 L324.83,512.53 L325.60,512.00 L326.37,511.46 L327.14,510.90 L327.91,510.32 L328.68,509.74 L329.45,509.14 L330.22,508.52 L330.99,507.89 L331.76,507.24 L332.53,506.58 L333.30,505.91 L334.07,505.22 L334.84,504.51 L335.61,503.80 L336.38,503.06 L337.15,502.31 L337.92,501.55 L338.69,500.77 L339.46,499.98 L340.23,499.17 L341.00,498.35 L341.77,497.52 L342.54,496.67 L343.31,495.80 L344.08,494.92 L344.85,494.03 L345.62,493.12 L346.39,492.20 L347.16,491.27 L347.93,490.32 L348.70,489.36 L349.47,488.39 L350.24,487.40 L351.01,486.41 L351.78,485.39 L352.55,484.37 L353.32,483.34 L354.09,482.29 L354.86,481.23 L355.63,480.16 L356.40,479.08 L357.17,477.99 L357.94,476.89 L358.71,475.78 L359.48,474.66 L360.25,473.54 L361.02,472.40 L361.79,471.25 L362.56,470.10 L363.33,468.94 L364.10,467.77 L364.87,466.59 L365.64,465.41 L366.41,464.23 L367.18,463.03 L367.95,461.84 L368.72,460.63 L369.49,459.43 L370.26,458.22 L371.03,457.00 L371.80,455.79 L372.57,454.57 L373.34,453.35 L374.11,452.13 L374.88,450.91 L375.65,449.68 L376.42,448.46 L377.19,447.24 L377.96,446.02 L378.73,444.80 L379.50,443.58 L380.27,442.37 L381.04,441.16 L381.81,439.95 L382.58,438.75 L383.35,437.55 L384.12,436.35 L384.89,435.17 L385.66,433.98 L386.43,432.81 L387.20,431.64 L387.97,430.48 L388.74,429.32 L389.51,428.18 L390.28,427.04 L391.05,425.92 L391.82,424.80 L392.59,423.69 L393.36,422.59 L394.13,421.51 L394.90,420.43 L395.67,419.37 L396.44,418.32 L397.21,417.28 L397.98,416.25 L398.75,415.23 L399.52,414.23 L400.29,413.24 L401.06,412.27 L401.83,411.31 L402.60,410.36 L403.37,409.43 L404.14,408.51 L404.91,407.61 L405.68,406.72 L406.45,405.85 L407.22,404.99 L407.99,404.15 L408.76,403.33 L409.53,402.52 L410.30,401.72 L411.07,400.94 L411.84,400.18 L412.61,399.43 L413.38,398.70 L414.15,397.99 L414.92,397.29 L415.69,396.61 L416.46,395.94 L417.23,395.29 L418.00,394.65 L418.77,394.04 L419.54,393.43 L420.31,392.85 L421.08,392.27 L421.85,391.72 L422.62,391.18 L423.39,390.65 L424.16,390.14 L424.93,389.64 L425.70,389.16 L426.47,388.70 L427.24,388.24 L428.01,387.81 L428.78,387.38 L429.55,386.97 L430.32,386.57 L431.09,386.19 L431.86,385.82 L432.63,385.46 L433.40,385.12 L434.17,384.78 L434.94,384.46 L435.71,384.15 L436.48,383.86 L437.25,383.57 L438.02,383.30 L438.79,383.03 L439.56,382.78 L440.33,382.53 L441.10,382.30 L441.87,382.08 L442.64,381.86 L443.41,381.66 L444.18,381.46 L444.95,381.27 L445.72,381.09 L446.49,380.92 L447.26,380.76 L448.03,380.60 L448.80,380.46 L449.57,380.31 L450.34,380.18 L451.11,380.05 L451.88,379.93 L452.65,379.81 L453.42,379.70 L454.19,379.60 L454.96,379.50 L455.73,379.41 L456.50,379.32 L457.27,379.23 L458.04,379.16 L458.81,379.08 L459.58,379.01 L460.35,378.94 L461.12,378.88 L461.89,378.82 L462.66,378.77 L463.43,378.71 L464.20,378.66 L464.97,378.62 L465.74,378.57 L466.51,378.53 L467.28,378.49 L468.05,378.46 L468.82,378.43 L469.59,378.39 L470.36,378.36 L471.13,378.34 L471.90,378.31 L472.67,378.29 L473.44,378.27 L474.21,378.25 L474.98,378.23 L475.75,378.21 L476.52,378.19 L477.29,378.18 L478.06,378.16 L478.83,378.15 L479.60,378.14 L480.37,378.13 L481.14,378.11 L481.91,378.10 L482.68,378.10 L483.45,378.09 L484.22,378.08 L484.99,378.07 L485.76,378.07 L486.53,378.06 L487.30,378.06" stroke="#2e28c4" stroke-width="1.55" fill="none" stroke-linejoin="round"/>
<path d="M302.50,525.30 L303.27,525.28 L304.04,525.25 L304.81,525.22 L305.58,525.18 L306.35,525.14 L307.12,525.08 L307.89,525.02 L308.66,524.96 L309.43,524.88 L310.20,524.79 L310.97,524.69 L311.74,524.58 L312.51,524.45 L313.28,524.31 L314.05,524.15 L314.82,523.98 L315.59,523.79 L316.36,523.58 L317.13,523.35 L317.90,523.10 L318.67,522.83 L319.44,522.54 L320.21,522.22 L320.98,521.88 L321.75,521.51 L322.52,521.12 L323.29,520.69 L324.06,520.24 L324.83,519.77 L325.60,519.26 L326.37,518.72 L327.14,518.16 L327.91,517.56 L328.68,516.93 L329.45,516.27 L330.22,515.58 L330.99,514.86 L331.76,514.11 L332.53,513.33 L333.30,512.51 L334.07,511.66 L334.84,510.79 L335.61,509.88 L336.38,508.94 L337.15,507.97 L337.92,506.98 L338.69,505.95 L339.46,504.90 L340.23,503.82 L341.00,502.71 L341.77,501.58 L342.54,500.42 L343.31,499.24 L344.08,498.03 L344.85,496.81 L345.62,495.56 L346.39,494.29 L347.16,493.00 L347.93,491.69 L348.70,490.37 L349.47,489.03 L350.24,487.68 L351.01,486.31 L351.78,484.93 L352.55,483.54 L353.32,482.14 L354.09,480.72 L354.86,479.30 L355.63,477.88 L356.40,476.44 L357.17,475.00 L357.94,473.56 L358.71,472.11 L359.48,470.67 L360.25,469.22 L361.02,467.77 L361.79,466.32 L362.56,464.87 L363.33,463.43 L364.10,461.99 L364.87,460.56 L365.64,459.13 L366.41,457.70 L367.18,456.29 L367.95,454.88 L368.72,453.48 L369.49,452.08 L370.26,450.70 L371.03,449.33 L371.80,447.97 L372.57,446.62 L373.34,445.28 L374.11,443.96 L374.88,442.64 L375.65,441.35 L376.42,440.06 L377.19,438.79 L377.96,437.53 L378.73,436.29 L379.50,435.07 L380.27,433.86 L381.04,432.66 L381.81,431.48 L382.58,430.32 L383.35,429.17 L384.12,428.04 L384.89,426.93 L385.66,425.83 L386.43,424.75 L387.20,423.69 L387.97,422.65 L388.74,421.62 L389.51,420.61 L390.28,419.61 L391.05,418.64 L391.82,417.68 L392.59,416.73 L393.36,415.81 L394.13,414.90 L394.90,414.01 L395.67,413.13 L396.44,412.27 L397.21,411.43 L397.98,410.61 L398.75,409.80 L399.52,409.00 L400.29,408.23 L401.06,407.47 L401.83,406.72 L402.60,405.99 L403.37,405.28 L404.14,404.58 L404.91,403.89 L405.68,403.22 L406.45,402.57 L407.22,401.93 L407.99,401.30 L408.76,400.69 L409.53,400.09 L410.30,399.51 L411.07,398.94 L411.84,398.38 L412.61,397.83 L413.38,397.30 L414.15,396.78 L414.92,396.28 L415.69,395.78 L416.46,395.30 L417.23,394.83 L418.00,394.37 L418.77,393.92 L419.54,393.48 L420.31,393.05 L421.08,392.64 L421.85,392.23 L422.62,391.84 L423.39,391.45 L424.16,391.07 L424.93,390.71 L425.70,390.35 L426.47,390.00 L427.24,389.67 L428.01,389.34 L428.78,389.01 L429.55,388.70 L430.32,388.40 L431.09,388.10 L431.86,387.81 L432.63,387.53 L433.40,387.26 L434.17,386.99 L434.94,386.73 L435.71,386.48 L436.48,386.24 L437.25,386.00 L438.02,385.77 L438.79,385.54 L439.56,385.32 L440.33,385.11 L441.10,384.90 L441.87,384.70 L442.64,384.50 L443.41,384.31 L444.18,384.13 L444.95,383.95 L445.72,383.77 L446.49,383.60 L447.26,383.43 L448.03,383.27 L448.80,383.12 L449.57,382.97 L450.34,382.82 L451.11,382.68 L451.88,382.54 L452.65,382.40 L453.42,382.27 L454.19,382.14 L454.96,382.02 L455.73,381.90 L456.50,381.78 L457.27,381.67 L458.04,381.56 L458.81,381.45 L459.58,381.35 L460.35,381.25 L461.12,381.15 L461.89,381.05 L462.66,380.96 L463.43,380.87 L464.20,380.79 L464.97,380.70 L465.74,380.62 L466.51,380.54 L467.28,380.46 L468.05,380.39 L468.82,380.32 L469.59,380.25 L470.36,380.18 L471.13,380.11 L471.90,380.05 L472.67,379.98 L473.44,379.92 L474.21,379.87 L474.98,379.81 L475.75,379.75 L476.52,379.70 L477.29,379.65 L478.06,379.60 L478.83,379.55 L479.60,379.50 L480.37,379.46 L481.14,379.41 L481.91,379.37 L482.68,379.33 L483.45,379.29 L484.22,379.25 L484.99,379.21 L485.76,379.17 L486.53,379.13 L487.30,379.10" stroke="#b47c42" stroke-width="1.55" fill="none" stroke-linejoin="round"/>
<path d="M302.50,525.06 L303.27,525.01 L304.04,524.95 L304.81,524.89 L305.58,524.82 L306.35,524.73 L307.12,524.64 L307.89,524.55 L308.66,524.44 L309.43,524.32 L310.20,524.19 L310.97,524.04 L311.74,523.89 L312.51,523.72 L313.28,523.53 L314.05,523.34 L314.82,523.12 L315.59,522.89 L316.36,522.65 L317.13,522.38 L317.90,522.10 L318.67,521.80 L319.44,521.47 L320.21,521.13 L320.98,520.77 L321.75,520.38 L322.52,519.98 L323.29,519.55 L324.06,519.10 L324.83,518.62 L325.60,518.12 L326.37,517.59 L327.14,517.04 L327.91,516.47 L328.68,515.87 L329.45,515.24 L330.22,514.59 L330.99,513.91 L331.76,513.21 L332.53,512.48 L333.30,511.72 L334.07,510.94 L334.84,510.13 L335.61,509.29 L336.38,508.43 L337.15,507.54 L337.92,506.63 L338.69,505.69 L339.46,504.73 L340.23,503.74 L341.00,502.73 L341.77,501.69 L342.54,500.63 L343.31,499.55 L344.08,498.44 L344.85,497.31 L345.62,496.17 L346.39,495.00 L347.16,493.81 L347.93,492.60 L348.70,491.38 L349.47,490.13 L350.24,488.87 L351.01,487.60 L351.78,486.31 L352.55,485.00 L353.32,483.68 L354.09,482.35 L354.86,481.01 L355.63,479.65 L356.40,478.29 L357.17,476.91 L357.94,475.53 L358.71,474.14 L359.48,472.74 L360.25,471.34 L361.02,469.94 L361.79,468.53 L362.56,467.11 L363.33,465.70 L364.10,464.28 L364.87,462.86 L365.64,461.45 L366.41,460.03 L367.18,458.62 L367.95,457.21 L368.72,455.80 L369.49,454.40 L370.26,453.00 L371.03,451.61 L371.80,450.23 L372.57,448.85 L373.34,447.48 L374.11,446.12 L374.88,444.77 L375.65,443.43 L376.42,442.09 L377.19,440.77 L377.96,439.46 L378.73,438.17 L379.50,436.88 L380.27,435.61 L381.04,434.35 L381.81,433.11 L382.58,431.87 L383.35,430.66 L384.12,429.46 L384.89,428.27 L385.66,427.10 L386.43,425.94 L387.20,424.80 L387.97,423.68 L388.74,422.57 L389.51,421.48 L390.28,420.41 L391.05,419.35 L391.82,418.31 L392.59,417.29 L393.36,416.28 L394.13,415.29 L394.90,414.32 L395.67,413.37 L396.44,412.43 L397.21,411.51 L397.98,410.61 L398.75,409.72 L399.52,408.85 L400.29,408.00 L401.06,407.17 L401.83,406.36 L402.60,405.56 L403.37,404.77 L404.14,404.01 L404.91,403.26 L405.68,402.53 L406.45,401.81 L407.22,401.11 L407.99,400.43 L408.76,399.76 L409.53,399.11 L410.30,398.47 L411.07,397.85 L411.84,397.24 L412.61,396.65 L413.38,396.07 L414.15,395.51 L414.92,394.96 L415.69,394.43 L416.46,393.91 L417.23,393.40 L418.00,392.91 L418.77,392.43 L419.54,391.96 L420.31,391.51 L421.08,391.06 L421.85,390.63 L422.62,390.21 L423.39,389.81 L424.16,389.41 L424.93,389.03 L425.70,388.66 L426.47,388.30 L427.24,387.94 L428.01,387.60 L428.78,387.27 L429.55,386.95 L430.32,386.64 L431.09,386.34 L431.86,386.05 L432.63,385.76 L433.40,385.49 L434.17,385.22 L434.94,384.96 L435.71,384.71 L436.48,384.47 L437.25,384.24 L438.02,384.01 L438.79,383.79 L439.56,383.58 L440.33,383.38 L441.10,383.18 L441.87,382.99 L442.64,382.80 L443.41,382.62 L444.18,382.45 L444.95,382.28 L445.72,382.12 L446.49,381.96 L447.26,381.81 L448.03,381.67 L448.80,381.53 L449.57,381.39 L450.34,381.26 L451.11,381.13 L451.88,381.01 L452.65,380.89 L453.42,380.78 L454.19,380.67 L454.96,380.57 L455.73,380.46 L456.50,380.37 L457.27,380.27 L458.04,380.18 L458.81,380.09 L459.58,380.01 L460.35,379.93 L461.12,379.85 L461.89,379.78 L462.66,379.70 L463.43,379.64 L464.20,379.57 L464.97,379.50 L465.74,379.44 L466.51,379.38 L467.28,379.33 L468.05,379.27 L468.82,379.22 L469.59,379.17 L470.36,379.12 L471.13,379.07 L471.90,379.03 L472.67,378.98 L473.44,378.94 L474.21,378.90 L474.98,378.86 L475.75,378.83 L476.52,378.79 L477.29,378.76 L478.06,378.72 L478.83,378.69 L479.60,378.66 L480.37,378.63 L481.14,378.61 L481.91,378.58 L482.68,378.56 L483.45,378.53 L484.22,378.51 L484.99,378.49 L485.76,378.46 L486.53,378.44 L487.30,378.42" stroke="#6b6b6b" stroke-width="1.55" fill="none" stroke-linejoin="round"/>
<path d="M302.50,525.40v-1.90M302.50,378.00v1.90M323.03,525.40v-1.90M323.03,378.00v1.90M343.57,525.40v-1.90M343.57,378.00v1.90M364.10,525.40v-1.90M364.10,378.00v1.90M384.63,525.40v-1.90M384.63,378.00v1.90M405.17,525.40v-1.90M405.17,378.00v1.90M425.70,525.40v-1.90M425.70,378.00v1.90M446.23,525.40v-1.90M446.23,378.00v1.90M466.77,525.40v-1.90M466.77,378.00v1.90M487.30,525.40v-1.90M487.30,378.00v1.90M301.40,525.40h1.90M488.10,525.40h-1.90M301.40,510.66h1.90M488.10,510.66h-1.90M301.40,495.92h1.90M488.10,495.92h-1.90M301.40,481.18h1.90M488.10,481.18h-1.90M301.40,466.44h1.90M488.10,466.44h-1.90M301.40,451.70h1.90M488.10,451.70h-1.90M301.40,436.96h1.90M488.10,436.96h-1.90M301.40,422.22h1.90M488.10,422.22h-1.90M301.40,407.48h1.90M488.10,407.48h-1.90M301.40,392.74h1.90M488.10,392.74h-1.90M301.40,378.00h1.90M488.10,378.00h-1.90" stroke="#8a8a8a" stroke-width="0.8" fill="none"/>
<rect x="301.40" y="378.00" width="186.70" height="147.40" stroke="#8a8a8a" stroke-width="1" fill="none"/>
<text x="302.50" y="534.00" text-anchor="middle" font-size="6.4">40</text>
<text x="323.03" y="534.00" text-anchor="middle" font-size="6.4">60</text>
<text x="343.57" y="534.00" text-anchor="middle" font-size="6.4">80</text>
<text x="364.10" y="534.00" text-anchor="middle" font-size="6.4">100</text>
<text x="384.63" y="534.00" text-anchor="middle" font-size="6.4">120</text>
<text x="405.17" y="534.00" text-anchor="middle" font-size="6.4">140</text>
<text x="425.70" y="534.00" text-anchor="middle" font-size="6.4">160</text>
<text x="446.23" y="534.00" text-anchor="middle" font-size="6.4">180</text>
<text x="466.77" y="534.00" text-anchor="middle" font-size="6.4">200</text>
<text x="487.30" y="534.00" text-anchor="middle" font-size="6.4">220</text>
<text x="298.40" y="527.90" text-anchor="end" font-size="6.4">0</text>
<text x="298.40" y="513.16" text-anchor="end" font-size="6.4">0.1</text>
<text x="298.40" y="498.42" text-anchor="end" font-size="6.4">0.2</text>
<text x="298.40" y="483.68" text-anchor="end" font-size="6.4">0.3</text>
<text x="298.40" y="468.94" text-anchor="end" font-size="6.4">0.4</text>
<text x="298.40" y="454.20" text-anchor="end" font-size="6.4">0.5</text>
<text x="298.40" y="439.46" text-anchor="end" font-size="6.4">0.6</text>
<text x="298.40" y="424.72" text-anchor="end" font-size="6.4">0.7</text>
<text x="298.40" y="409.98" text-anchor="end" font-size="6.4">0.8</text>
<text x="298.40" y="395.24" text-anchor="end" font-size="6.4">0.9</text>
<text x="298.40" y="380.50" text-anchor="end" font-size="6.4">1</text>
<text x="394.75" y="542.30" text-anchor="middle" font-size="7.0">SMD</text>
<text transform="translate(286.10,451.70) rotate(-90)" text-anchor="middle" font-size="7.0">Cumulative probability</text>
<text x="282.10" y="541.30" text-anchor="middle" font-size="12.6" style="fill:#222;stroke:#222;stroke-width:0.25">f</text>
<rect x="306.00" y="382.80" width="48.40" height="34.60" fill="#fff" stroke="#8a8a8a" stroke-width="0.9"/>
<path d="M307.60,386.90h16.80" stroke="#a98ccf" stroke-width="1.0"/>
<text x="326.30" y="388.80" font-size="5.15">4mm</text>
<path d="M307.60,393.55h16.80" stroke="#d43a3c" stroke-width="1.6"/>
<text x="326.30" y="395.45" font-size="5.15">Normal</text>
<path d="M307.60,400.20h16.80" stroke="#2e28c4" stroke-width="1.6"/>
<text x="326.30" y="402.10" font-size="5.15">Weibull</text>
<path d="M307.60,406.85h16.80" stroke="#b47c42" stroke-width="1.6"/>
<text x="326.30" y="408.75" font-size="5.15">Log normal</text>
<path d="M307.60,413.50h16.80" stroke="#6b6b6b" stroke-width="1.6"/>
<text x="326.30" y="415.40" font-size="5.15">Gamma</text>
</g>
</svg></body></html>
